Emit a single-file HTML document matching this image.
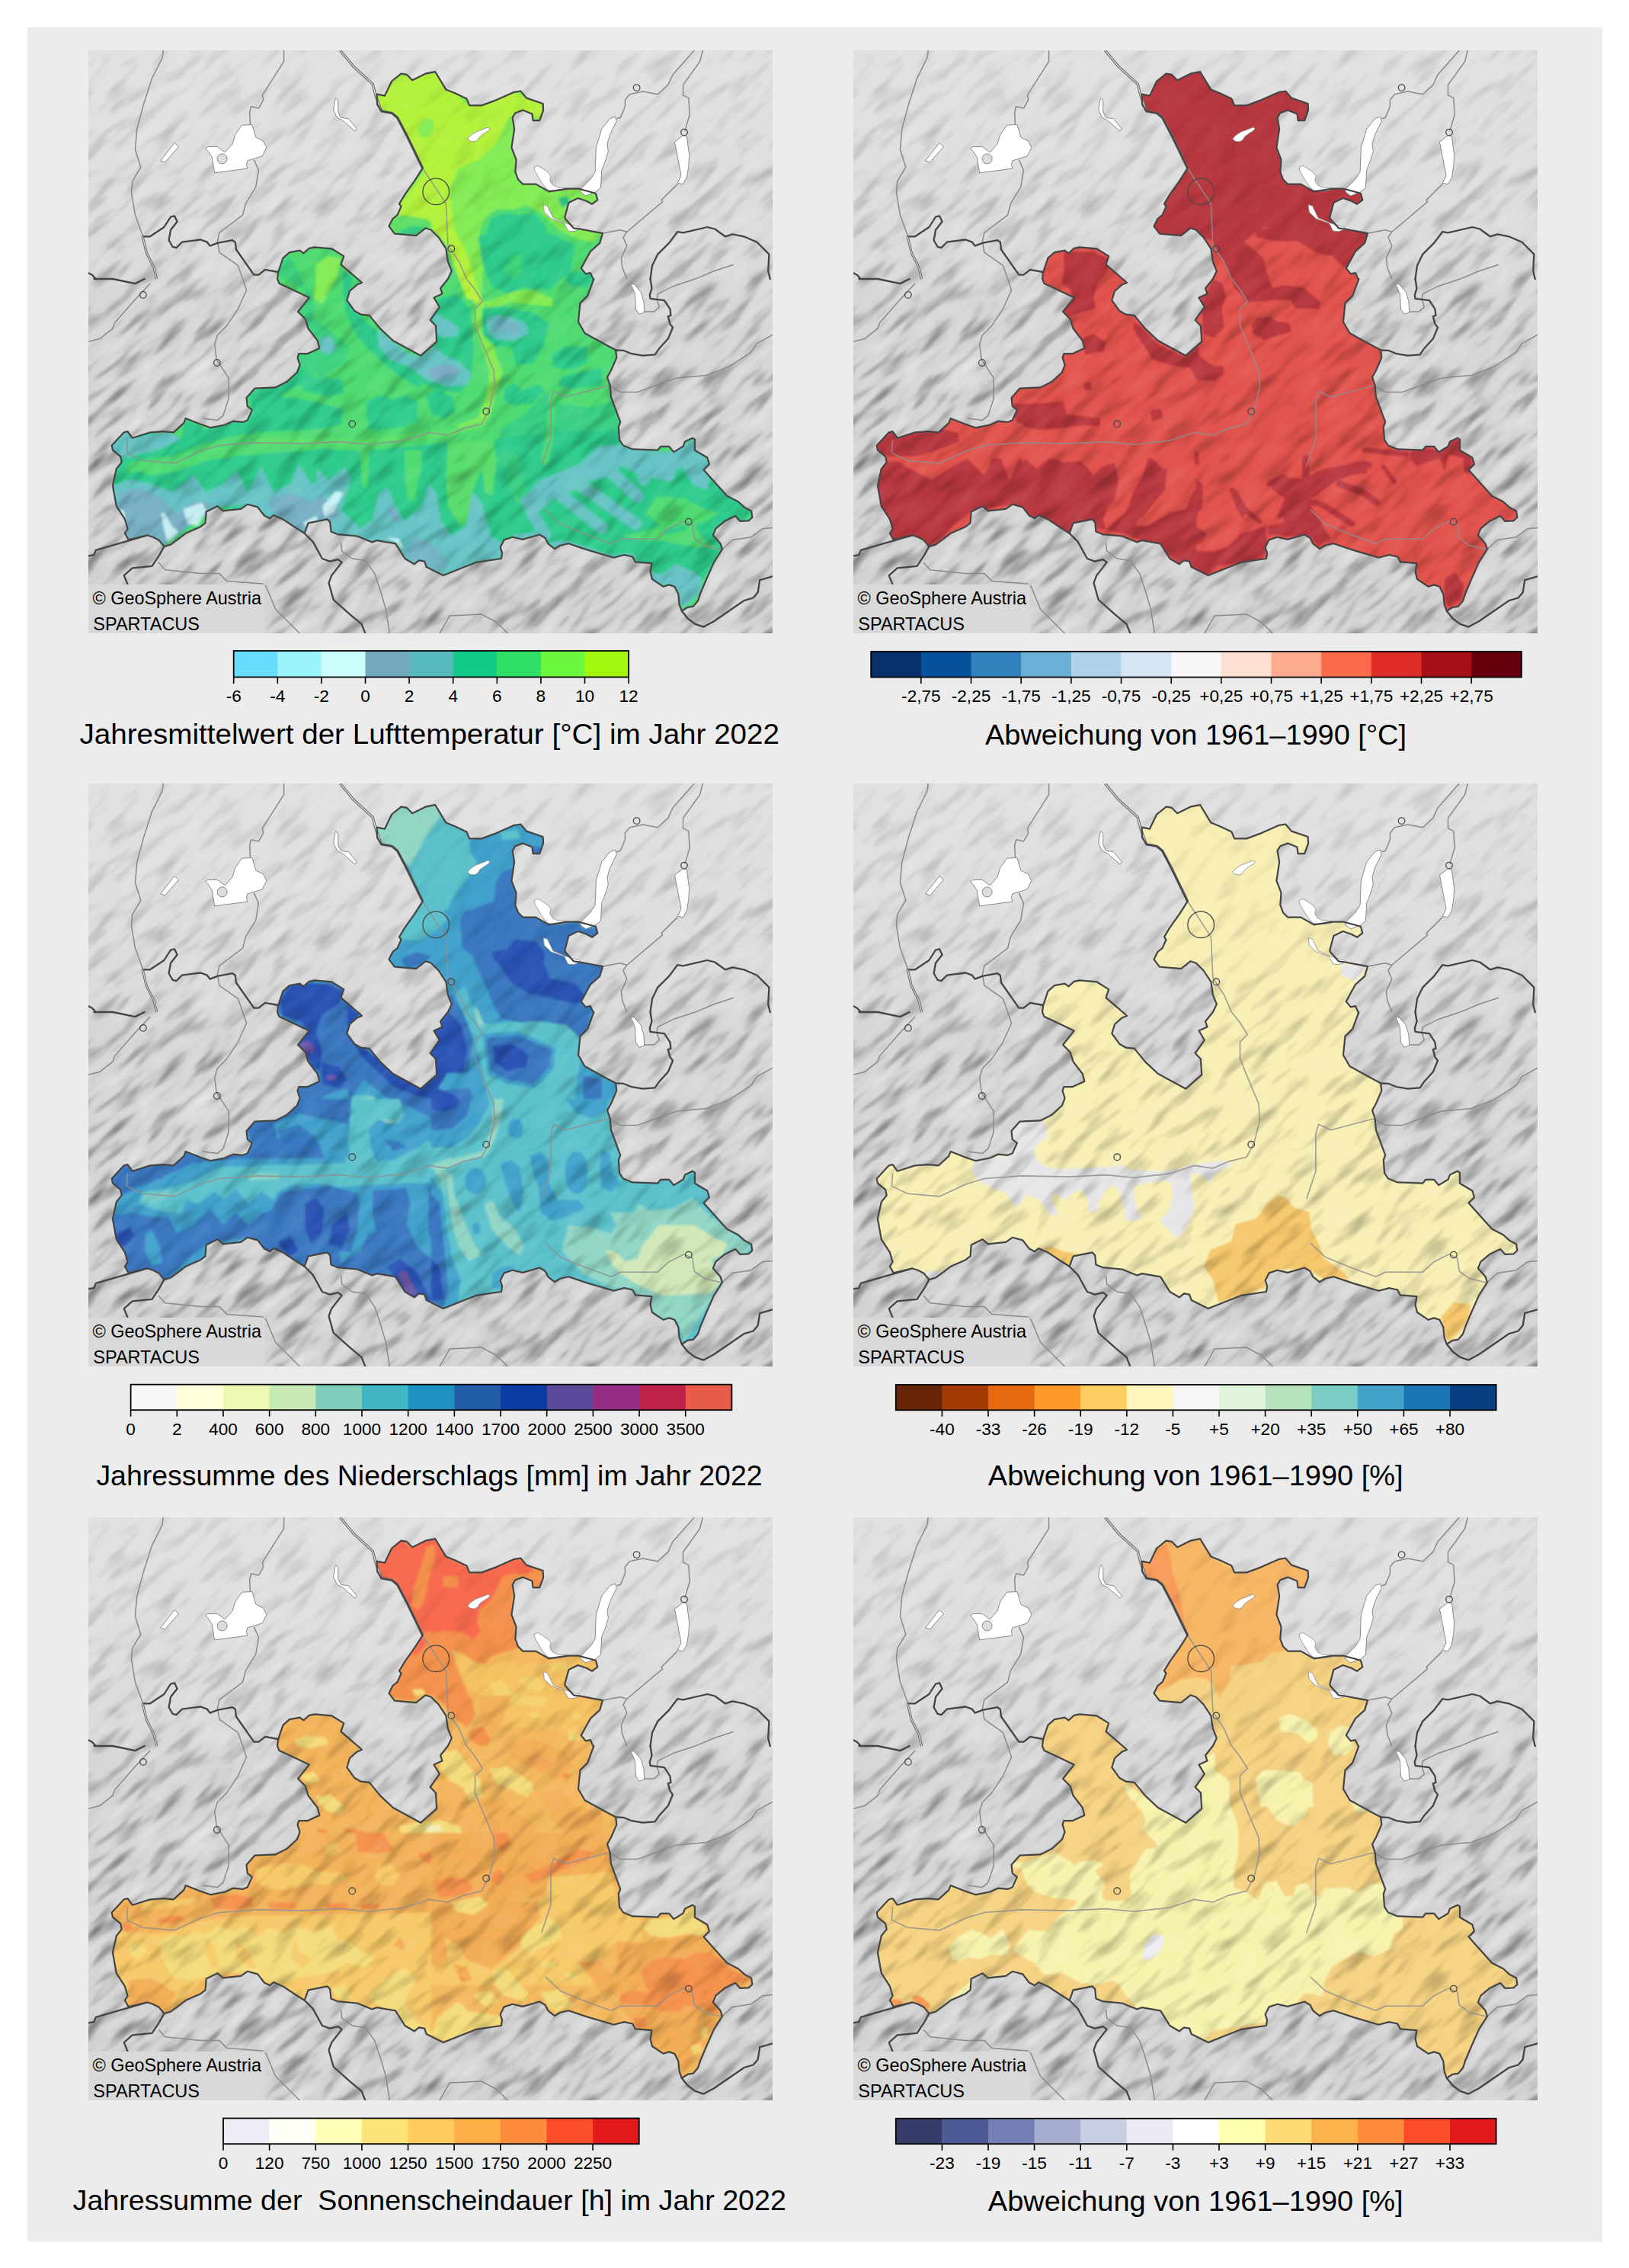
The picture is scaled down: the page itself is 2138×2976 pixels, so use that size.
<!DOCTYPE html>
<html lang="de"><head><meta charset="utf-8"><title>Klima Salzburg 2022</title>
<style>html,body{margin:0;padding:0;background:#fff}svg{display:block}text{font-family:"Liberation Sans",sans-serif;fill:#000}</style></head><body>
<svg width="2138" height="2976" viewBox="0 0 2138 2976">
<defs>
<clipPath id="frame"><rect width="898" height="765"/></clipPath>
<path id="sbgp" d="M378.6,57.7 L388.9,59.7 L398.2,40.5 L410.5,30.7 L417.9,31.9 L425.2,39.3 L442.4,30.7 L455.2,28.2 L469.4,51.6 L481.7,56.5 L496.4,63.4 L500.1,72.4 L516.1,72.4 L535.7,65.1 L557.8,55.2 L567.2,53.5 L575,62.6 L596.6,70 L597.1,78.6 L592.2,92.1 L583.6,92.1 L582.4,83.5 L570.1,78.6 L560.3,82.3 L556.6,88.4 L559.1,103.1 L555.4,127.7 L561.5,143.6 L560.3,159.6 L564,169.4 L570.1,175.6 L587.3,175.6 L604.5,185.4 L629,181.7 L643.8,181.7 L665.9,187.8 L668.3,196.4 L661,201.8 L653.6,197.7 L642.5,194 L630.3,200.1 L625.4,218.5 L625.8,221 L636.8,233.3 L645.4,234.5 L674.9,240.1 L671.2,252.9 L658.9,264 L652.8,275 L646.7,286.1 L652.8,293.4 L658.9,292.2 L662.6,300.1 L663.4,300 L655.2,322.1 L645.4,331.9 L643,356.5 L651.6,371.2 L676.1,384.7 L692.1,393.3 L693.3,403.1 L685.9,420.3 L681,428.9 L684.7,440 L685.9,454.7 L698.2,487.8 L695.8,494 L697,511.2 L701.9,518.5 L714.2,523.4 L747.3,524.7 L751,519.8 L762.1,519.8 L768.2,527.1 L780.5,519.8 L782.9,513.6 L792.8,508.7 L795.9,510.7 L795.9,524.7 L812.4,534.5 L814.9,543.1 L807.5,550.5 L838.2,584.8 L852.9,592.2 L861.5,600.1 L870.1,604.4 L871.3,613 L866.4,617.4 L855.4,617.9 L849.2,611 L835.7,617.4 L823.4,627.7 L819.8,636.3 L829.6,647.3 L832,654.7 L821,671.9 L811.2,694 L803.8,711.2 L800.1,722.2 L794,729.6 L786.6,730.8 L778.8,735.7 L775.6,727.1 L774.3,713.6 L769.4,703.8 L762.1,701.4 L754.7,703.8 L740,694 L737.5,684.2 L739.5,673.1 L717.9,671.4 L714.2,664.5 L703.1,662.1 L689.6,665.7 L656,655.9 L630.3,647.3 L619.2,649.8 L611.8,654.2 L603.3,647.3 L599.6,640 L592.2,635.5 L570.1,641.9 L556.6,638.7 L545.5,642.4 L540.6,652.2 L543.1,659.6 L541.9,667 L508.7,671.9 L465.7,689.1 L443.6,678 L441.2,670.7 L433.8,669.4 L427.7,674.3 L415.4,667 L409.3,657.2 L403.1,647.3 L378.6,643.2 L372.4,645.4 L352.8,637.5 L327,635.1 L318.4,631.4 L317.2,619.1 L313.5,615.4 L288.5,620.3 L283.6,633.8 L270.1,625.2 L255.4,615.4 L243.1,610 L238.2,614.2 L230.8,610.5 L222.2,599.4 L208.7,595.8 L200.1,601.9 L176.8,604.4 L169.4,598.2 L154.7,605.6 L153.5,620.3 L147.3,625.2 L127.7,633.8 L108,648.6 L99.4,651 L92.1,642.4 L84.7,638.7 L77.3,636.3 L52.8,642.4 L47.9,633.8 L51.6,627.7 L47.9,615.4 L36.8,598.2 L31.9,571.2 L36.8,549.1 L43.7,540.5 L42.2,533.1 L31.9,524.6 L30.7,518.4 L46.7,501.2 L51.6,500.1 L57.7,508.7 L81,501.4 L98.2,500.1 L111.7,501.4 L125.2,489.1 L127.7,482.9 L146.1,490.3 L160.8,495.2 L179.3,491.5 L190.3,486.6 L202.6,487.8 L208.7,485.4 L214.9,471.9 L208.7,467 L207.5,455.9 L218.5,443.6 L245.5,442.4 L260.3,435.1 L273.8,422.8 L277.5,413 L274.5,403.1 L276.2,398.2 L287.3,398.2 L303.3,390.9 L300.8,381 L288.5,365.1 L284.8,352.8 L275,343 L289.7,324.6 L264,312.3 L250.5,306.1 L248,300 L249.2,291 L255.4,272.6 L264,265.2 L277.5,262.7 L282.4,266.4 L289.7,259.8 L297.1,258.3 L319.2,260.3 L335.2,270.1 L331.5,281.2 L344.3,292.2 L353.5,300 L358.9,304.9 L352.8,307.4 L343,316 L339.3,328.2 L349.1,341.7 L357.7,346.7 L368.8,347.9 L383,365.1 L399.9,381 L436.3,400.7 L457.2,382.3 L455.9,361.4 L448.6,354 L460.8,336.8 L453.5,324.6 L464.5,319.6 L462.1,312.3 L471.9,300 L476.8,289.7 L471.9,277.5 L469.4,260.3 L459.6,245.5 L449.8,235.7 L442.4,233.3 L430.1,243.1 L401.9,240.6 L394.5,230.8 L399.4,221 L405.6,216.1 L410.5,205 L408,201.4 L415.4,189.1 L427.7,171.9 L438.7,154.7 L417.9,111.7 L405.6,88.4 L398.2,82.3 L384.7,79.8 L379.1,71.2Z"/>
<clipPath id="sbg"><use href="#sbgp"/></clipPath>
<linearGradient id="bgg" x1="0" y1="0" x2="0" y2="1"><stop offset="0" stop-color="#e1e1e1"/><stop offset="0.28" stop-color="#dcdcdc"/><stop offset="0.45" stop-color="#d4d4d4"/><stop offset="1" stop-color="#d1d1d1"/></linearGradient>
<filter id="terrD" x="0" y="0" width="100%" height="100%" color-interpolation-filters="sRGB"><feTurbulence type="fractalNoise" baseFrequency="0.018 0.065" numOctaves="2" seed="7" result="n"/><feColorMatrix in="n" type="matrix" values="0 0 0 0 0  0 0 0 0 0  0 0 0 0 0  -1.05 0 0 0 0.525"/></filter>
<filter id="terrL" x="0" y="0" width="100%" height="100%" color-interpolation-filters="sRGB"><feTurbulence type="fractalNoise" baseFrequency="0.018 0.065" numOctaves="2" seed="7" result="n"/><feColorMatrix in="n" type="matrix" values="0 0 0 0 1  0 0 0 0 1  0 0 0 0 1  1.05 0 0 0 -0.525"/></filter>
<filter id="soft1" x="0" y="0" width="898" height="765" filterUnits="userSpaceOnUse"><feGaussianBlur stdDeviation="1.8"/></filter>
<filter id="soft2" x="0" y="0" width="898" height="765" filterUnits="userSpaceOnUse"><feGaussianBlur stdDeviation="1"/></filter>
<linearGradient id="tmg" x1="0" y1="0" x2="0" y2="1"><stop offset="0" stop-color="#fff" stop-opacity="0.25"/><stop offset="0.3" stop-color="#fff" stop-opacity="0.55"/><stop offset="0.5" stop-color="#fff" stop-opacity="1"/><stop offset="1" stop-color="#fff" stop-opacity="1"/></linearGradient>
<mask id="tm" maskUnits="userSpaceOnUse" x="0" y="0" width="898" height="765"><rect width="898" height="765" fill="url(#tmg)"/></mask>
<g id="terrain" mask="url(#tm)"><g transform="rotate(-42 449 382)"><rect x="-300" y="-300" width="1500" height="1400" filter="url(#terrD)"/><rect x="-300" y="-300" width="1500" height="1400" filter="url(#terrL)"/></g></g>
<g id="terrainIn" mask="url(#tm)"><g transform="rotate(-42 449 382)"><rect x="-300" y="-300" width="1500" height="1400" filter="url(#terrD)" opacity="0.6"/><rect x="-300" y="-300" width="1500" height="1400" filter="url(#terrL)" opacity="0.22"/></g></g>
<g id="mapbg">
<rect width="898" height="765" fill="url(#bgg)"/>
<use href="#terrain"/>
<g fill="none" stroke="#8a8a8a" stroke-width="1.5" stroke-linejoin="round">
<path d="M98.2,0 L97,9.8 L83.5,36.8 L72.4,71.2 L63.8,103.1 L61.4,130.1 L68.8,153.5 L57.7,171.9 L56.5,186.6 L61.4,216.1 L71.2,243.1 L76.1,265.2 L85.9,284.8 L89.6,300.1"/>
<path d="M256.6,0 L256.6,14.7 L228.4,58.9 L229.6,65.1 L223.4,76.1 L213.6,73.7 L211.7,81 L212.4,97"/>
<path d="M217.3,143.6 L223.4,157.2 L219.8,179.3 L206.3,201.4 L202.6,216.1 L171.9,239.4 L169.4,250.5 L171.9,265.2 L196.4,282.4 L202.6,300.1"/>
<path d="M330.3,0 L348.7,22.1 L373.2,44.2 L376.9,58.9 L383.1,76.1 L400,83.5"/>
<path d="M795.2,0 L767,31.9 L760.8,45.4 L747.3,57.7 L727.7,54 L710.5,57.7 L704.4,65.1 L704.4,73.7 L698.2,88.4 L693.3,89.6"/>
<path d="M806.3,0 L802.6,14.7 L780.5,45.4 L780.5,58.9 L787.8,62.6 L789.1,84.7 L782.9,105.6"/>
<path d="M773.1,175.6 L752.2,196.4 L753.5,198.9 L706.8,238.2 L701.9,245.5 L706.8,256.6 L699.4,272.6 L700.7,284.8 L706.8,300.1"/>
<path d="M674.9,240.1 L698.2,235.7 L706.8,238.2"/>
<path d="M846.8,281.2 L821,289.7 L796.4,300.1"/>
<path d="M0,382.3 L14.7,378.6 L31.9,365.1 L34.4,357.7 L61.4,327 L81,306.1"/>
<path d="M202.6,300 L207.5,314.7 L196.4,339.3 L181.7,361.4 L169.4,373.7 L165.7,385.9 L168.2,405.6 L184.2,430.1 L184.2,457.2 L176.8,479.3 L169.4,485.4 L149.8,482.9"/>
<path d="M729.7,343 L742.4,343 L749.3,336.8 L746.1,327 L747.3,319.6 L767,309.8 L796.4,300"/>
<path d="M684.7,440.5 L698.2,448.6 L720.3,448.6 L771.9,430.1 L811.2,426.5 L840.6,415.4 L870.1,395.8 L877.5,384.7 L898.3,373.2"/>
<path d="M92.1,671.9 L100.7,681.7 L147.3,686.6 L171.9,686.6 L181.7,696.4 L228.4,700.1 L233.3,703.8 L245.5,733.3 L277.5,765.2"/>
<path d="M331.5,646.1 L332.7,657.2 L346.2,667 L363.4,669.4 L375.7,686.6 L383.1,708.7 L390.4,733.3 L395.3,765.2"/>
<path d="M460.8,765.2 L474.3,741.9 L516.1,740.1 L535.7,750.5 L550.5,765.2"/>
<path d="M832,654.7 L845.5,642.4 L870.1,638.7 L884.8,627.7 L898.3,626.5"/>
</g>
<g fill="none" stroke="#444" stroke-width="2.3" stroke-linejoin="round" stroke-linecap="round">
<path d="M71.2,244.3 L81,244.3 L99.4,232 L108,218.5 L113,217.3 L116.6,224.7 L108,235.7 L105.6,249.2 L110.5,257.8 L115.4,259.1 L122.8,251.7 L147.3,248.5 L155.9,251.7 L159.6,256.6 L169.4,252.9 L189.1,249.2 L192.8,251.7 L194,261.5 L217.3,294.7 L223.4,294.7 L232,287.8 L249.2,291"/>
<path d="M737.5,300.1 L740,282.4 L747.3,267.6 L762.1,252.9 L773.1,238.2 L780.5,239.4 L812.4,232 L822.2,234.5 L835.7,244.3 L845.5,241.4 L860.3,244.3 L877.5,251.7 L893.4,267.6 L892.2,289.7 L894.7,300.1"/>
<path d="M692.1,393.3 L701.9,393.8 L713,398.2 L727.7,400.7 L743.6,399.4 L748.6,392.1 L760.8,378.6 L767,363.8 L763.3,358.9 L760.8,349.1 L764.5,347.9 L763.3,339.3 L755.9,328.2 L737.5,325.8 L736.8,320.9 L739.5,312.3 L737.5,300"/>
<path d="M0,663.3 L7.4,662.1 L9.8,655.9 L77.3,636.3"/>
<path d="M99.4,651 L93.3,662.1 L83.5,676.8 L57.7,679.3 L46.7,689.1 L51.6,700.9"/>
<path d="M283.6,633.8 L294.7,644.9 L306.9,667 L316.8,670.7 L327.8,668.2 L332.7,671.9 L319.2,689.1 L315.5,698.9 L321.7,721 L343.8,740.6 L358.5,752.9 L363.4,765.2"/>
<path d="M778.8,735.7 L786.6,745.5 L796.4,752.9 L807.5,756.6 L821,749.2 L860.3,722.2 L872.6,718.5 L878.7,711.2 L881.2,695.2 L898.3,690.3"/>
<path d="M7.4,300 L31.9,300 L61.4,306.1 L73.7,300"/>
<path d="M0,292.2 L4.9,294.7 L9.8,300.1"/>
</g>
</g>
<g id="lakesg">
<path d="M153.5,128.9 L157.2,126.5 L169.4,126.5 L179.3,133.8 L189.1,122.8 L192.8,110.5 L201.4,98.2 L214.9,97.5 L219.8,114.2 L229.6,119.1 L233.8,127.7 L228.4,138.7 L221,141.2 L208.7,144.9 L207.5,149.8 L208.7,155.2 L165.7,160.8 L162.1,140 L157.2,132.6Z" fill="#fff" stroke="#8a8a8a" stroke-width="1"/>
<path d="M94.5,144.9 L113,121.5 L118.4,126.5 L100.7,146.8Z" fill="#fff" stroke="#8a8a8a" stroke-width="1"/>
<path d="M325.4,62.6 L327.8,66.3 L327.8,81 L331.5,88.4 L341.3,89.6 L352.4,103.1 L349.9,106.1 L333.9,92.1 L326.6,88.4 L321.7,78.6 L323.6,65.1Z" fill="#fff" stroke="#8a8a8a" stroke-width="1"/>
<path d="M646.7,186.6 L645.4,182.9 L658.9,169.4 L665.1,159.6 L666.3,127.7 L673.7,103.1 L684.7,89.6 L691.3,87.2 L693.3,92.8 L684.7,110.5 L681,122.8 L682.3,132.6 L678.6,144.9 L673.7,157.2 L672.4,180.5 L666.3,185.4 L652.8,191Z" fill="#fff" stroke="#8a8a8a" stroke-width="1"/>
<path d="M769.4,120.3 L780.5,111.7 L785.4,113 L788.6,137.5 L787.8,152.2 L785.4,167 L780.5,175.6 L773.1,174.3 L778,164.5 L771.9,132.6Z" fill="#fff" stroke="#8a8a8a" stroke-width="1"/>
<path d="M711.7,306.1 L716.6,307.4 L725.2,317.2 L728.9,329.5 L729.7,344.2 L722.8,346.2 L718.4,339.3 L717.4,319.6Z" fill="#fff" stroke="#8a8a8a" stroke-width="1"/>
<circle cx="175.6" cy="142.4" r="6.5" fill="#dcdcdc" stroke="#8a8a8a" stroke-width="1"/>
<path d="M497.7,116.3 L501.4,112 L508.8,107.1 L518.6,103.4 L524.7,100.9 L527.2,102.8 L524.7,105.8 L518.6,109.5 L513.7,113.2 L510.6,118.1 L506.3,120 L501.4,119.3Z" fill="#fff" stroke="#8a8a8a" stroke-width="0.8"/>
<path d="M584.9,153.7 L589.8,151.3 L595.9,154.9 L603.3,159.9 L607,164.8 L605.7,170.9 L609.4,177 L616.8,180.1 L627.8,180.7 L629.7,182.6 L621.7,184.4 L611.9,185 L603.3,183.2 L597.2,177 L591,167.2 L586.1,158.6Z" fill="#fff" stroke="#8a8a8a" stroke-width="0.8"/>
<path d="M597.1,202.6 L602.5,204.3 L609.9,219.8 L627.1,227.1 L644.3,232 L645.5,234.5 L636.9,237.7 L629.5,237 L624.6,227.1 L607.4,221 L598.3,212.4Z" fill="#fff" stroke="#8a8a8a" stroke-width="0.8"/>
<path d="M330.3,0 L348.7,22.1 L373.2,44.2 L376.9,58.9 L383.1,76.1 L384.7,79.8 L398.2,82.3 L405.6,88.4 L417.9,111.7 L438.7,154.7" fill="none" stroke="#6e6e6e" stroke-width="3.4" stroke-linejoin="round"/>
<path d="M330.3,0 L348.7,22.1 L373.2,44.2 L376.9,58.9 L383.1,76.1 L384.7,79.8 L398.2,82.3 L405.6,88.4 L417.9,111.7 L438.7,154.7" fill="none" stroke="#e6e6e6" stroke-width="1.1" stroke-linejoin="round"/>
<path d="M71.2,244.3 L76.1,265.2 L85.9,284.8 L89.6,300.1" fill="none" stroke="#6e6e6e" stroke-width="3.2" stroke-linejoin="round"/>
<path d="M71.2,244.3 L76.1,265.2 L85.9,284.8 L89.6,300.1" fill="none" stroke="#e6e6e6" stroke-width="1" stroke-linejoin="round"/>
</g>
<g id="mapfg">
<g fill="none" stroke="#8f8f8f" stroke-width="1.6" stroke-linejoin="round" opacity="0.85" clip-path="url(#sbg)">
<path d="M51.6,511.2 L50.3,528.4 L71.2,538.2 L113,541.9 L147.3,525.9 L171.9,518.5 L221,514.9 L282.4,516.1 L331.5,513.6 L368.3,517.3 L400,513.6"/>
<path d="M399.9,514.1 L417.9,511.2 L447.3,501.4 L471.9,505 L491.5,496.4 L516.1,490.3 L525.9,471.9 L533.3,442.4 L532,420.3 L518.5,388.4 L507.5,361.4 L507.5,339.3 L517.3,329.5 L506.3,312.3 L496.4,300"/>
<path d="M496.4,300.1 L486.6,277.5 L471.9,255.4 L469.4,201.4 L438.7,154.7"/>
<path d="M700,442.4 L683.1,440 L626.6,454.7 L610.6,447.3 L606.9,459.6 L606.9,508.7 L594.7,545.5"/>
<path d="M832,655.2 L808.7,649.8 L795.2,640 L792.8,622.8 L781.7,617.9 L762.1,627.7 L747.3,641.2 L698.2,641.2 L685.9,647.3 L649.1,633.8 L619.6,621.5 L600,603.1"/>
</g>
<use href="#sbgp" fill="none" stroke="#444" stroke-width="2.2" stroke-linejoin="round"/>
<g fill="none" stroke="#4a4a4a" stroke-width="1.3">
<circle cx="719.6" cy="49.1" r="4.3"/>
<circle cx="782.0" cy="107.6" r="4.3"/>
<circle cx="71.9" cy="320.9" r="4.3"/>
<circle cx="168.9" cy="410.0" r="4.3"/>
<circle cx="346.2" cy="490.3" r="4.3"/>
<circle cx="522.2" cy="473.8" r="4.3"/>
<circle cx="787.8" cy="618.6" r="4.3"/>
<circle cx="476.3" cy="260.3" r="4.3"/>
<circle cx="456.2" cy="185.4" r="17.3"/>
</g>
</g>
</defs>
<rect x="36" y="36" width="2067" height="2905.5" fill="#ececec"/>
<g transform="translate(116,66)" clip-path="url(#frame)">
<use href="#mapbg"/>
<g clip-path="url(#sbg)">
<rect width="898" height="765" fill="#2fd27c"/>
<g filter="url(#soft1)">
<path d="M0,0 L898,0 L898,765 L0,765Z" fill="#4fdb72"/>
<path d="M358.3,0 L716.6,0 L716.6,242.6 L669.8,242.6 L661.5,259.1 L633.9,259.1 L606.4,242.6 L584.3,220.5 L556.8,209.5 L529.2,215 L512.7,242.6 L518.2,286.7 L515.4,330.8 L496.1,325.2 L479.6,281.1 L465.8,242.6 L358.3,248.1Z" fill="#84ec54"/>
<path d="M380.4,55.1 L410.7,33.1 L457.5,30.3 L496.1,71.7 L556.8,55.1 L595.4,68.9 L595.4,91 L573.3,79.9 L551.3,88.2 L537.5,118.5 L512.7,143.3 L485.1,154.4 L474.1,181.9 L479.6,231.5 L498.9,286.7 L515.4,330.8 L496.1,325.2 L479.6,281.1 L465.8,242.6 L441,228.8 L410.7,237 L396.9,237 L410.7,201.2 L441,159.9 L407.9,99.2 L380.4,71.7Z" fill="#b4f23c"/>
<ellipse cx="443.8" cy="102.0" rx="10" ry="13" fill="#84ec54" transform="rotate(20 443.8 102.0)"/>
<path d="M399.4,221 L410.5,216.1 L427.7,218.5 L447.3,222.2 L452.2,233.3 L442.4,233.3 L430.1,243.1 L401.9,240.6 L394.5,230.8Z" fill="#4fdb72" opacity="0.8"/>
<path d="M410.5,235.7 L427.7,229.6 L442.4,233.3 L430.1,243.1 L408,241.9Z" fill="#2ecb8c" opacity="0.8"/>
<path d="M522.2,218.5 L535.7,208.7 L557.8,208.7 L575,203.8 L594.7,213.6 L616.8,235.7 L643.8,248 L668.3,252.9 L653.6,272.6 L647.5,287.3 L619.2,300.1 L545.5,300.1 L530.8,282.4 L516.1,257.8 L513.6,235.7Z" fill="#4fdb72"/>
<path d="M528.4,221 L545.5,213.6 L565.2,216.1 L584.8,213.6 L602,233.3 L599.6,248 L584.8,260.3 L570.1,255.4 L560.3,267.6 L545.5,270.1 L535.7,255.4 L521,245.5Z" fill="#2ecb8c"/>
<path d="M555.4,270.1 L570.1,267.6 L594.7,275 L614.3,289.7 L609.4,300.1 L557.8,300.1Z" fill="#2ecb8c"/>
<ellipse cx="561.5" cy="279.9" rx="9" ry="12" fill="#25c296" transform="rotate(30 561.5 279.9)"/>
<ellipse cx="592.2" cy="275.0" rx="10" ry="8" fill="#25c296"/>
<path d="M616.8,194 L629,191.5 L631.5,201.4 L621.7,206.3Z" fill="#2ecb8c"/>
<path d="M511.3,245 L527.9,239.5 L569.3,234 L610.7,242.3 L638.4,256.1 L632.8,289.2 L605.2,314.1 L569.3,311.3 L550,319.6 L527.9,308.6 L516.8,275.4Z" fill="#2ecb8c"/>
<path d="M555.5,269.9 L566.5,267.1 L572.1,289.2 L558.3,300.3 L544.4,289.2Z" fill="#4fdb72" opacity="0.6"/>
<path d="M516.8,330.7 L536.2,325.2 L555.5,316.9 L580.4,314.1 L608,325.2 L610.7,336.2 L583.1,333.4 L555.5,330.7 L527.9,339Z" fill="#84ec54"/>
<path d="M453.3,234 L472.6,234 L489.2,250.6 L500.2,275.4 L511.3,316.9 L518.2,329.3 L508.5,333.4 L497.5,316.9 L486.4,289.2 L472.6,258.9Z" fill="#b4f23c"/>
<path d="M508.5,333.4 L518.2,329.3 L526.5,366.6 L534.8,399.7 L544.4,421.8 L536.2,443.9 L527.9,477.1 L516.8,493.7 L486.4,497 L483.7,492.3 L511.3,482.6 L522.3,455 L526.5,421.8 L516.8,388.7 L505.8,355.5Z" fill="#84ec54"/>
<path d="M298.6,281 L315.2,269.9 L331.7,272.7 L326.2,297.5 L315.2,316.9 L306.9,333.4 L295.8,325.2 L298.6,303.1Z" fill="#84ec54"/>
<path d="M251.6,297.5 L279.2,311.3 L287.5,325.2 L273.7,344.5 L287.5,366.6 L304.1,383.2 L293.1,397 L276.5,399.7 L276.5,427.4 L306.9,427.4 L334.5,410.8 L342.8,388.7 L315.2,366.6 L295.8,350 L295.8,327.9 L282,303.1 L262.7,267.1 L251.6,283.7Z" fill="#2ecb8c" opacity="0.55"/>
<path d="M304.1,377.6 L317.9,374.9 L326.2,391.5 L315.2,399.7 L304.1,394.2Z" fill="#66c3c4"/>
<path d="M334.5,289.2 L348.3,297.5 L342.8,316.9 L345.5,339 L373.2,363.8 L400.8,388.7 L422.9,410.8 L439.5,427.4 L433.9,443.9 L417.4,432.9 L400.8,421.8 L378.7,402.5 L353.8,377.6 L340,350 L334.5,322.4Z" fill="#2ecb8c"/>
<path d="M458.8,325.2 L483.7,319.6 L500.2,339 L505.8,388.7 L503,427.4 L489.2,449.5 L467.1,446.7 L439.5,438.4 L422.9,416.3 L453.3,388.7 L450.5,355.5Z" fill="#2ecb8c"/>
<path d="M378.7,366.6 L395.3,377.6 L417.4,397 L436.7,402.5 L453.3,388.7 L467.1,399.7 L489.2,410.8 L503,424.6 L497.5,438.4 L472.6,441.2 L445,432.9 L422.9,416.3 L395.3,405.3 L381.5,388.7Z" fill="#66c3c4"/>
<path d="M453.3,344.5 L464.3,350 L486.4,363.8 L483.7,374.9 L467.1,377.6 L456,372.1Z" fill="#66c3c4"/>
<ellipse cx="465.7" cy="421.8" rx="20" ry="9" fill="#7cabc6" transform="rotate(-8 465.7 421.8)"/>
<path d="M516.8,339 L541.7,336.2 L583.1,344.5 L605.2,358.3 L596.9,388.7 L583.1,410.8 L561,413.6 L555.5,388.7 L533.4,388.7 L516.8,372.1Z" fill="#2ecb8c"/>
<path d="M522.3,352.8 L533.4,347.3 L555.5,350 L574.8,358.3 L577.6,372.1 L561,380.4 L538.9,380.4 L525.1,372.1Z" fill="#66c3c4"/>
<ellipse cx="550.0" cy="363.8" rx="18" ry="9" fill="#7cabc6" opacity="0.6" transform="rotate(10 550.0 363.8)"/>
<path d="M608,399.7 L624.6,388.7 L654.9,388.7 L654.9,410.8 L632.8,419.1 L610.7,416.3Z" fill="#2ecb8c"/>
<path d="M621.8,427.4 L674,416.3 L674,438.4 L638.4,443.9 L616.3,441.2Z" fill="#2ecb8c"/>
<path d="M547.2,443.9 L558.3,435.7 L569.3,446.7 L591.4,438.4 L599.7,446.7 L583.1,463.3 L555.5,466 L544.4,457.8Z" fill="#2ecb8c"/>
<path d="M624.6,292 L654.9,289.2 L663.2,300.3 L654.9,311.3 L630.1,308.6Z" fill="#2ecb8c"/>
<path d="M224,452.2 L251.6,455 L279.2,457.8 L306.9,463.3 L334.5,471.6 L331.7,490.9 L306.9,496.4 L265.4,499.2 L224,499.2Z" fill="#2ecb8c"/>
<path d="M364.9,463.3 L378.7,452.2 L400.8,457.8 L417.4,452.2 L433.9,463.3 L428.4,482.6 L411.8,490.9 L389.7,493.7 L367.6,496.4Z" fill="#2ecb8c"/>
<path d="M442.2,452.2 L458.8,443.9 L478.1,455 L480.9,474.3 L467.1,482.6 L450.5,477.1Z" fill="#2ecb8c"/>
<path d="M284.8,432.9 L306.9,427.4 L334.5,432.9 L334.5,449.5 L306.9,452.2 L279.2,446.7Z" fill="#2ecb8c" opacity="0.8"/>
<path d="M121.5,510.7 L127.1,483.1 L154.7,496.9 L193.4,485.8 L215.5,474.8 L209.9,452.7 L229.3,441.6 L276.2,414 L303.9,436.1 L331.5,430.6 L334.3,449.9 L314.9,455.4 L276.2,438.9 L248.6,455.4 L276.2,463.7 L328.7,472 L331.5,491.3 L303.9,496.9 L248.6,499.6 L193.4,505.2 L143.6,519 L110.5,532.8 L82.9,535.5 L55.2,541.1 L47,557.6 L30.4,552.1 L30.4,519 L47,496.9 L91.2,502.4Z" fill="#2ecb8c"/>
<path d="M367.4,461 L386.7,455.4 L428.2,461 L433.7,485.8 L414.4,494.1 L372.9,499.6 L364.6,480.3Z" fill="#2ecb8c"/>
<path d="M30.4,519 L47,499.6 L63.5,507.9 L91.2,502.4 L110.5,502.4 L121.5,510.7 L91.2,524.5 L66.3,530 L49.7,535.5 L35.9,530Z" fill="#66c3c4"/>
<path d="M30.4,557.6 L66.3,552.1 L82.9,557.6 L116,552.1 L154.7,538.3 L193.4,532.8 L248.6,527.3 L303.9,524.5 L359.1,524.5 L414.4,524.5 L450,524.5 L450,690.2 L386.7,648.8 L317.7,626.7 L234.8,612.9 L171.3,599.1 L99.4,648.8 L52.5,643.3 L30.4,593.6Z" fill="#2ecb8c"/>
<path d="M30.4,571.5 L55.2,563.2 L82.9,568.7 L110.5,579.7 L138.1,557.6 L154.7,579.7 L176.8,568.7 L193.4,552.1 L209.9,579.7 L226.5,546.6 L243.1,579.7 L265.2,568.7 L276.2,543.8 L292.8,568.7 L317.7,563.2 L337,546.6 L345.3,568.7 L337,590.8 L331.5,618.4 L359.1,629.5 L386.7,607.4 L400.6,585.3 L414.4,607.4 L430.9,629.5 L450,612.9 L450,679.2 L414.4,662.6 L359.1,635 L317.7,626.7 L284.5,632.2 L234.8,612.9 L207.2,596.3 L171.3,599.1 L149.2,612.9 L99.4,648.8 L52.5,643.3 L30.4,593.6Z" fill="#66c3c4"/>
<path d="M41.4,579.7 L69.1,574.2 L91.2,585.3 L116,607.4 L138.1,590.8 L165.7,596.3 L149.2,612.9 L121.5,629.5 L99.4,648.8 L52.5,643.3 L38.7,607.4Z" fill="#7cabc6" opacity="0.8"/>
<path d="M234.8,590.8 L262.4,579.7 L290.1,590.8 L317.7,585.3 L331.5,607.4 L317.7,626.7 L284.5,632.2 L248.6,615.7Z" fill="#7cabc6" opacity="0.8"/>
<path d="M95.3,607.4 L100.8,607.4 L109.1,623.9 L118.8,632.2 L110.5,641.9 L103.6,646 L98.1,623.9Z" fill="#d6fcfc" opacity="0.8"/>
<path d="M124.3,601.8 L149.2,593.6 L154.7,604.6 L143.6,623.9 L129.8,621.2Z" fill="#d6fcfc" opacity="0.8"/>
<path d="M40.1,601.8 L47,604.6 L49.7,626.7 L44.2,621.2Z" fill="#d6fcfc" opacity="0.8"/>
<path d="M281.8,619.8 L303.9,608.8 L324.6,583.9 L331.5,583.9 L321.8,601.8 L303.9,617 L287.3,626.7Z" fill="#d6fcfc" opacity="0.8"/>
<path d="M389.5,639.1 L408.8,640.5 L414.4,657.1 L397.8,648.8Z" fill="#d6fcfc" opacity="0.8"/>
<path d="M66.3,552.1 L71.8,541.1 L110.5,535.5 L143.6,521.7 L193.4,507.9 L248.6,502.4 L303.9,501 L359.1,499.6 L400.6,496.9 L450,494.1 L450,520.4 L414.4,524.5 L359.1,524.5 L303.9,524.5 L248.6,527.3 L209.9,530 L193.4,532.8 L154.7,538.3 L116,552.1 L82.9,557.6Z" fill="#4fdb72"/>
<path d="M224,513 L279.2,513 L362.1,514.4 L417.4,507.5 L472.6,503.3 L514.1,490.9" fill="none" stroke="#5fe268" stroke-width="9" stroke-linecap="round" stroke-linejoin="round" opacity="0.8"/>
<path d="M356.4,524.5 L361.9,568.7" fill="none" stroke="#4fdb72" stroke-width="9" stroke-linecap="round" stroke-linejoin="round"/>
<path d="M430.9,524.5 L426.8,590.8" fill="none" stroke="#4fdb72" stroke-width="10" stroke-linecap="round" stroke-linejoin="round"/>
<path d="M300,522.1 L349.1,527 L471.9,514.7 L545.5,509.8 L606.9,500 L700,500 L700,671.9 L300,647.3Z" fill="#2ecb8c"/>
<path d="M356.5,524.6 L368.8,524.6 L366.3,573.7 L358.9,571.2Z" fill="#4fdb72"/>
<path d="M415.4,524.6 L437.5,524.6 L437.5,549.1 L427.7,588.4 L420.3,593.3 L415.4,561.4Z" fill="#4fdb72"/>
<path d="M535.7,536.8 L545.5,524.6 L565.2,531.9 L575,581 L567.6,603.1 L555.4,581 L548,549.1Z" fill="#4fdb72"/>
<path d="M594.7,500 L606.9,500 L604.5,539.3 L594.7,544.2Z" fill="#4fdb72"/>
<path d="M471.9,514.7 L530.8,509.8 L535.7,536.8 L530.8,583.5 L521,581 L516.1,549.1 L503.8,581 L501.4,617.9 L486.6,622.8 L471.9,598.2 L469.4,561.4Z" fill="#5add6d"/>
<path d="M300,549.1 L314.7,563.8 L336.8,546.7 L344.2,563.8 L331.9,603.1 L356.5,627.7 L373.7,615.4 L381,581 L393.3,573.7 L405.6,603.1 L415.4,617.9 L437.5,598.2 L447.3,568.8 L457.2,581 L462.1,615.4 L476.8,637.5 L496.4,622.8 L503.8,578.6 L516.1,593.3 L528.4,637.5 L545.5,647.3 L567.6,632.6 L587.3,617.9 L570.1,593.3 L606.9,581 L668.3,519.6 L700,519.6 L700,531.9 L683.1,549.1 L700,549.1 L700,578.6 L668.3,573.7 L643.8,581 L619.2,598.2 L604.5,615.4 L602,637.5 L592.2,635.5 L570.1,641.9 L556.6,638.7 L545.5,642.4 L540.6,652.2 L543.1,659.6 L541.9,667 L508.7,671.9 L465.7,689.1 L443.6,678 L441.2,670.7 L433.8,669.4 L427.7,674.3 L415.4,667 L409.3,657.2 L403.1,647.3 L378.6,643.2 L372.4,645.4 L352.8,637.5 L327,635.1 L318.4,631.4 L317.2,619.1 L300,620.3Z" fill="#66c3c4"/>
<path d="M300,581 L324.6,598.2 L329.5,610.5 L317.2,617.9 L300,617.9Z" fill="#7cabc6" opacity="0.8"/>
<path d="M393.3,603.1 L403.1,598.2 L408,615.4 L398.2,617.9Z" fill="#7cabc6" opacity="0.8"/>
<path d="M427.7,637.5 L452.2,647.3 L471.9,671.9 L462.1,684.2 L444.9,676.8 L437.5,669.4 L427.7,671.9 L415.4,662.1Z" fill="#7cabc6" opacity="0.6"/>
<path d="M307.4,598.2 L324.6,578.6 L334.4,581 L322.1,605.6 L309.8,613Z" fill="#d6fcfc" opacity="0.85"/>
<path d="M390.9,638.7 L408,641.2 L414.2,655.9 L403.1,644.9Z" fill="#d6fcfc" opacity="0.85"/>
<path d="M604.7,447.1 L684.8,438.9 L695.9,483.1 L698.6,519 L671,519 L643.4,543.8 L593.6,563.2 L566,590.8 L541.2,568.7 L538.4,524.5 L541.2,496.9 L571.5,477.5Z" fill="#2ecb8c" opacity="0.7"/>
<path d="M608.8,449.9 L606.1,505.2 L599.2,538.3" fill="none" stroke="#4fdb72" stroke-width="9" stroke-linecap="round" stroke-linejoin="round"/>
<path d="M607.5,447.1 L684.8,438.9 L684.8,462.3 L657.2,469.2 L615.7,463.7Z" fill="#4fdb72"/>
<path d="M566,590.8 L593.6,563.2 L643.4,543.8 L671,519 L726.2,524.5 L767.7,527.3 L795.3,509.3 L814.6,546.6 L869.9,607.4 L831.2,654.3 L806.4,695.8 L781.5,731.7 L773.2,706.8 L740.1,698.5 L715.2,662.6 L687.6,662.6 L626.8,643.3 L604.7,635 L571.5,637.8 L543.9,654.3 L541.2,635Z" fill="#2ecb8c"/>
<path d="M566,590.8 L593.6,563.2 L643.4,543.8 L671,519 L698.6,517.6 L726.2,524.5 L767.7,527.3 L795.3,509.3 L800.8,524.5 L817.4,546.6 L813.3,577 L795.3,571.5 L778.7,546.6 L756.6,564.6 L729,559 L712.4,552.1 L698.6,545.2 L684.8,559 L659.9,564.6 L643.4,575.6 L615.7,583.9 L593.6,604.6 L579.8,615.7Z" fill="#66c3c4"/>
<path d="M615.7,579.7 L673.8,626.7" fill="none" stroke="#66c3c4" stroke-width="16" stroke-linecap="round" stroke-linejoin="round"/>
<path d="M643.4,568.7 L718,621.2" fill="none" stroke="#66c3c4" stroke-width="16" stroke-linecap="round" stroke-linejoin="round"/>
<path d="M684.8,552.1 L720.7,585.3" fill="none" stroke="#66c3c4" stroke-width="16" stroke-linecap="round" stroke-linejoin="round"/>
<path d="M582.6,607.4 L599.2,635" fill="none" stroke="#66c3c4" stroke-width="16" stroke-linecap="round" stroke-linejoin="round"/>
<path d="M726.2,535.5 L729,563.2" fill="none" stroke="#66c3c4" stroke-width="16" stroke-linecap="round" stroke-linejoin="round"/>
<path d="M759.4,538.3 L762.2,557.6" fill="none" stroke="#66c3c4" stroke-width="16" stroke-linecap="round" stroke-linejoin="round"/>
<path d="M541.2,651.6 L560.5,635 L593.6,632.2 L604.7,646 L626.8,643.3 L687.6,662.6 L715.2,659.9 L720.7,668.1 L687.6,665.4 L629.6,651.6 L610.2,657.1 L599.2,637.8 L571.5,637.8Z" fill="#66c3c4"/>
<path d="M737.3,684.7 L753.9,687.5 L770.4,673.7 L795.3,684.7 L806.4,695.8 L803.6,712.3 L781.5,731.7 L776,723.4 L773.2,706.8 L756.6,701.3 L740.1,698.5Z" fill="#66c3c4"/>
<path d="M731.8,607.4 L745.6,585.3 L781.5,588 L809.1,601.8 L828.5,607.4 L809.1,618.4 L795.3,623.9 L809.1,643.3 L828.5,654.3 L795.3,651.6 L776,648.8 L753.9,643.3 L726.2,643.3 L698.6,637.8 L726.2,632.2 L751.1,623.9Z" fill="#4fdb72"/>
<path d="M759.4,632.2 L781.5,626.7" fill="none" stroke="#2ecb8c" stroke-width="8" stroke-linecap="round" stroke-linejoin="round" opacity="0.8"/>
</g>
</g>
<g clip-path="url(#sbg)"><use href="#terrainIn"/></g>
<use href="#lakesg"/>
<use href="#mapfg"/>
<rect x="0" y="700.9" width="231.6" height="64.1" fill="#d9d9d9"/>
<text x="5.5" y="727.3" font-size="23.4" textLength="221.5" lengthAdjust="spacingAndGlyphs">© GeoSphere Austria</text>
<text x="6.3" y="761.3" font-size="23.4" textLength="139.7" lengthAdjust="spacingAndGlyphs">SPARTACUS</text>
</g>
<g transform="translate(1120,66)" clip-path="url(#frame)">
<use href="#mapbg"/>
<g clip-path="url(#sbg)">
<rect width="898" height="765" fill="#cf2f2a"/>
<g filter="url(#soft2)">
<path d="M0,0 L898,0 L898,765 L0,765Z" fill="#e2524d"/>
<path d="M358.3,0 L716.6,0 L716.6,242.6 L661.5,294.9 L639.5,281.1 L617.4,259.1 L584.3,250.8 L556.8,237 L537.5,231.5 L509.9,253.6 L523.7,286.7 L518.2,330.8 L507.2,314.2 L485.1,275.6 L468.6,248.1 L358.3,248.1Z" fill="#b8383f"/>
<path d="M276.5,264.4 L315.2,264.4 L334.5,272.7 L334.5,289.2 L320.7,305.8 L315.2,325.2 L317.9,339 L295.8,344.5 L279.2,350 L273.7,344.5 L287.5,325.2 L284.8,314.1 L273.7,305.8 L276.5,289.2Z" fill="#b8383f"/>
<path d="M301.3,377.6 L315.2,372.1 L331.7,383.2 L329,394.2 L304.1,399.7Z" fill="#b8383f"/>
<path d="M367.6,355.5 L378.7,363.8 L400.8,385.9 L422.9,397 L436.7,402.5 L453.3,388.7 L453.3,399.7 L467.1,410.8 L486.4,421.8 L475.4,432.9 L450.5,432.9 L442.2,416.3 L417.4,413.6 L392.5,405.3 L378.7,383.2 L367.6,366.6Z" fill="#b8383f"/>
<path d="M456,325.2 L464.3,316.9 L472.6,300.3 L483.7,305.8 L489.2,322.4 L483.7,339 L486.4,363.8 L472.6,377.6 L458.8,372.1 L458.8,352.8Z" fill="#b8383f"/>
<path d="M469.9,234 L511.3,234 L511.3,250.6 L538.9,272.7 L541.7,289.2 L550,311.3 L569.3,308.6 L591.4,311.3 L613.5,330.7 L610.7,339 L580.4,339 L574.8,327.9 L550,327.9 L516.8,330.7 L500.2,311.3 L489.2,283.7 L472.6,256.1Z" fill="#b8383f"/>
<path d="M527.9,234 L674,234 L674,261.6 L649.4,281 L632.8,269.9 L610.7,267.1 L583.1,250.6 L555.5,250.6 L527.9,245Z" fill="#b8383f"/>
<path d="M522.3,361.1 L530.6,350 L547.2,350 L555.5,355.5 L572.1,358.3 L574.8,369.4 L555.5,374.9 L538.9,380.4 L525.1,372.1Z" fill="#b8383f"/>
<path d="M224,468.8 L240.6,466 L268.2,460.5 L279.2,471.6 L279.2,482.6 L323.4,482.6 L323.4,493.7 L301.3,490.9 L268.2,496.4 L240.6,497.8 L224,493.7Z" fill="#b8383f"/>
<path d="M389.7,474.3 L403.6,470.2 L406.3,482.6 L392.5,486.8Z" fill="#b8383f"/>
<path d="M302.7,437 L312.4,435.7 L312.4,445.3 L304.1,446.7Z" fill="#b8383f"/>
<path d="M224,535.1 L240.6,548.9 L257.1,535.1 L271,537.9 L287.5,565.5 L306.9,546.2 L317.9,565.5 L334.5,543.4 L345.5,551.7 L340,579.3 L329,614.1 L224,614.1Z" fill="#b8383f"/>
<path d="M378.7,560 L389.7,535.1 L398,560 L411.8,546.2 L409.1,576.5 L395.3,593.1 L378.7,614.1 L356.6,614.1 L367.6,579.3Z" fill="#b8383f"/>
<path d="M439.5,593.1 L453.3,565.5 L458.8,579.3 L450.5,614.1 L436.7,614.1Z" fill="#b8383f"/>
<path d="M447.8,526.8 L453.3,526.8 L453.3,543.4 L447.8,543.4Z" fill="#b8383f"/>
<path d="M547.2,568.3 L569.3,560 L591.4,562.7 L610.7,551.7 L632.8,546.2 L674,537.9 L674,554.4 L654.9,557.2 L632.8,565.5 L610.7,582.1 L591.4,593.1 L577.6,614.1 L555.5,614.1 L566.5,587.6 L550,576.5Z" fill="#b8383f"/>
<path d="M494.7,576.5 L503,576.5 L516.8,601.4 L511.3,614.1 L503,601.4Z" fill="#b8383f"/>
<path d="M30.4,519 L47,496.9 L91.2,502.4 L116,496.9 L138.1,502.4 L138.1,513.4 L110.5,524.5 L82.9,532.8 L55.2,532.8 L35.9,530Z" fill="#b8383f"/>
<path d="M209.9,463.7 L234.8,463.7 L276.2,461 L279,477.5 L323.2,483.1 L323.2,491.3 L276.2,494.1 L243.1,496.9 L215.5,488.6 L207.2,477.5Z" fill="#b8383f"/>
<path d="M303.9,436.1 L312.2,436.1 L312.2,444.4 L303.9,444.4Z" fill="#b8383f"/>
<path d="M392.3,472 L403.3,470.6 L404.7,483.1 L393.6,484.4Z" fill="#b8383f"/>
<path d="M30.4,543.8 L55.2,538.3 L80.1,552.1 L102.2,563.2 L121.5,552.1 L149.2,535.5 L171.3,557.6 L182.3,535.5 L193.4,535.5 L204.4,563.2 L218.2,535.5 L234.8,552.1 L248.6,568.7 L259.7,579.7 L265.2,557.6 L256.9,535.5 L276.2,541.1 L298.3,538.3 L314.9,557.6 L326,546.6 L342.5,541.1 L348.1,563.2 L342.5,590.8 L326,607.4 L331.5,629.5 L356.4,607.4 L378.5,563.2 L386.7,535.5 L392.3,535.5 L408.8,552.1 L406.1,568.7 L386.7,590.8 L370.2,623.9 L386.7,623.9 L414.4,607.4 L436.5,601.8 L450,585.3 L450,690.2 L414.4,662.6 L359.1,635 L317.7,626.7 L281.8,635 L234.8,612.9 L207.2,596.3 L154.7,604.6 L99.4,651.6 L52.5,643.3 L30.4,593.6Z" fill="#b8383f"/>
<path d="M450,414 L485.9,414 L485.9,425 L466.6,433.3 L450,433.3Z" fill="#b8383f"/>
<path d="M543.9,623.9 L571.5,618.4 L582.6,590.8 L599.2,596.3 L626.8,640.5 L610.2,651.6 L599.2,637.8 L571.5,637.8 L543.9,635Z" fill="#b8383f"/>
<path d="M508,635 L541.2,623.9 L543.9,654.3 L532.9,670.9 L477.6,676.4 L463.8,690.2 L450,679.2 L450,657.1 L474.9,657.1 L491.4,651.6Z" fill="#b8383f"/>
<path d="M450,563.2 L458.3,568.7 L458.3,601.8 L450,607.4Z" fill="#b8383f"/>
<path d="M450,623.9 L463.8,635 L458.3,646 L450,648.8Z" fill="#b8383f"/>
<path d="M731.8,527.3 L748.3,521.7 L767.7,524.5 L781.5,513.4 L795.3,510.7 L798.1,524.5 L811.9,535.5 L809.1,557.6 L800.8,552.1 L800.8,535.5 L781.5,530 L776,552.1 L770.4,535.5 L751.1,541.1 L740.1,546.6 L731.8,538.3Z" fill="#b8383f"/>
<path d="M776,693 L789.8,684.7 L800.8,701.3 L798.1,720.6 L781.5,731.7 L776,717.9Z" fill="#b8383f"/>
<path d="M546.7,568.7 L566,560.4" fill="none" stroke="#b8383f" stroke-width="8" stroke-linecap="round" stroke-linejoin="round"/>
<path d="M593.6,535.5 L593.6,568.7 L577.1,590.8 L568.8,618.4" fill="none" stroke="#b8383f" stroke-width="9" stroke-linecap="round" stroke-linejoin="round"/>
<path d="M596.4,568.7 L643.4,549.4 L676.5,543.8" fill="none" stroke="#b8383f" stroke-width="9" stroke-linecap="round" stroke-linejoin="round"/>
<path d="M637.8,568.7 L668.2,579.7 L687.6,593.6" fill="none" stroke="#b8383f" stroke-width="9" stroke-linecap="round" stroke-linejoin="round"/>
<path d="M593.6,590.8 L615.7,596.3 L654.4,621.2" fill="none" stroke="#b8383f" stroke-width="8" stroke-linecap="round" stroke-linejoin="round"/>
<path d="M497,577 L513.5,601.8 L532.9,618.4" fill="none" stroke="#b8383f" stroke-width="7" stroke-linecap="round" stroke-linejoin="round"/>
<path d="M671,524.5 L698.6,527.3 L726.2,530" fill="none" stroke="#b8383f" stroke-width="7" stroke-linecap="round" stroke-linejoin="round"/>
<path d="M695.9,546.6 L709.7,565.9" fill="none" stroke="#b8383f" stroke-width="6" stroke-linecap="round" stroke-linejoin="round"/>
</g>
</g>
<g clip-path="url(#sbg)"><use href="#terrainIn"/></g>
<use href="#lakesg"/>
<use href="#mapfg"/>
<rect x="0" y="700.9" width="231.6" height="64.1" fill="#d9d9d9"/>
<text x="5.5" y="727.3" font-size="23.4" textLength="221.5" lengthAdjust="spacingAndGlyphs">© GeoSphere Austria</text>
<text x="6.3" y="761.3" font-size="23.4" textLength="139.7" lengthAdjust="spacingAndGlyphs">SPARTACUS</text>
</g>
<g transform="translate(116,1028)" clip-path="url(#frame)">
<use href="#mapbg"/>
<g clip-path="url(#sbg)">
<rect width="898" height="765" fill="#2f8fc0"/>
<g filter="url(#soft1)">
<path d="M0,0 L898,0 L898,765 L0,765Z" fill="#42a2cc"/>
<path d="M534.8,129.8 L543.1,116 L556.9,110.5 L559.7,82.9 L603.9,82.9 L603.9,185.1 L642.5,182.3 L648.1,190.6 L686.7,190.6 L686.7,248.6 L667.4,254.1 L653.6,265.2 L645.3,290.1 L659.1,298.3 L656.4,320.4 L642.5,345.3 L631.5,331.5 L603.9,312.2 L559.7,312.2 L534.8,298.3 L521,265.2 L504.4,226.5 L490.6,215.5 L487.8,179.6 L493.4,168.5 L509.9,163 L532,154.7Z" fill="#3a78c0"/>
<path d="M529.3,221 L548.6,218.2 L559.7,204.4 L587.3,207.2 L598.3,221 L598.3,248.6 L626,265.2 L653.6,265.2 L645.3,290.1 L617.7,292.8 L590.1,281.8 L565.2,270.7 L548.6,248.6 L534.8,237.6Z" fill="#2a52b4"/>
<path d="M461.6,44.2 L454.7,27.6 L471.3,52.5 L498.9,66.3 L501.7,91.2 L509.9,102.2 L504.4,116 L493.4,129.8 L482.3,143.6 L471.3,165.7 L443.6,165.7 L438.1,154.7 L421.5,110.5 L443.6,69.1Z" fill="#5cc2cc"/>
<path d="M540.3,63.5 L562.4,60.8 L568,71.8 L543.1,74.6Z" fill="#5cc2cc"/>
<path d="M355.2,27.6 L454.7,16.6 L461.6,44.2 L443.6,69.1 L421.5,110.5 L399.4,88.4 L369.1,82.9Z" fill="#92d6c6"/>
<path d="M391.2,209.9 L410.5,193.4 L432.6,165.7 L438.1,154.7 L443.6,165.7 L465.7,165.7 L471.3,179.6 L454.7,193.4 L435.4,205.8 L413.3,204.4 L402.2,221Z" fill="#5cc2cc"/>
<path d="M410.5,229.3 L432.6,221 L449.2,226.5 L438.1,237.6 L416,243.1Z" fill="#3a78c0"/>
<path d="M449.2,314.9 L476.8,276.2 L493.4,303.9 L504.4,331.5 L498.9,380.1 L449.2,380.1Z" fill="#3a78c0"/>
<path d="M449.2,326 L471.3,306.6 L487.8,331.5 L490.6,380.1 L449.2,380.1Z" fill="#2a52b4"/>
<path d="M482.3,276.2 L493.4,265.2 L509.9,303.9 L518.2,328.7 L512.7,359.1 L504.4,331.5 L493.4,303.9Z" fill="#5cc2cc" opacity="0.8"/>
<path d="M508.5,316.9 L536.2,314.1 L583.1,311.3 L627.3,316.9 L649.4,339 L643.9,377.6 L666,399.7 L674,427.4 L674,614.1 L472.6,614.1 L464.3,537.9 L450.5,515.8 L417.4,510.2 L362.1,515.8 L306.9,521.3 L251.6,521.3 L224,518.5 L224,500.6 L279.2,500.6 L334.5,499.7 L345.5,482.6 L342.8,443.9 L345.5,410.8 L367.6,408 L400.8,427.4 L411.8,443.9 L395.3,449.5 L378.7,443.9 L367.6,455 L373.2,482.6 L389.7,499.2 L433.9,477.1 L445,468.8 L467.1,474.3 L500.2,466 L527.9,427.4 L516.8,377.6Z" fill="#5cc2cc"/>
<path d="M643.9,377.6 L674,372.1 L674,443.9 L654.9,438.4 L638.4,410.8Z" fill="#42a2cc"/>
<path d="M649.4,383.2 L674,388.7 L674,432.9 L660.5,432.9 L649.4,410.8Z" fill="#3a78c0"/>
<path d="M505.8,234 L674,234 L674,275.4 L654.9,311.3 L610.7,308.6 L569.3,314.1 L541.7,308.6 L527.9,278.2Z" fill="#3a78c0"/>
<path d="M536.2,234 L596.9,234 L605.2,256.1 L638.4,261.6 L654.9,283.7 L638.4,289.2 L605.2,281 L577.6,275.4 L555.5,261.6Z" fill="#2a52b4"/>
<path d="M516.8,327.9 L563.8,325.2 L613.5,347.3 L610.7,374.9 L585.9,399.7 L550,394.2 L525.1,383.2Z" fill="#42a2cc"/>
<path d="M522.3,333.4 L563.8,330.7 L608,350 L605.2,372.1 L583.1,394.2 L550,388.7 L527.9,377.6Z" fill="#3a78c0"/>
<path d="M530.6,344.5 L555.5,341.7 L577.6,355.5 L574.8,372.1 L550,377.6 L533.4,366.6Z" fill="#2a52b4"/>
<path d="M248.9,261.6 L334.5,261.6 L362.1,350 L439.5,405.3 L500.2,399.7 L511.3,427.4 L500.2,443.9 L461.6,443.9 L428.4,427.4 L389.7,410.8 L362.1,388.7 L345.5,410.8 L334.5,443.9 L306.9,449.5 L279.2,438.4 L251.6,443.9 L224,452.2 L224,443.9 L273.7,427.4 L276.5,399.7 L304.1,383.2 L273.7,344.5 L287.5,325.2 L248.9,300.3Z" fill="#3a78c0"/>
<path d="M251.6,283.7 L265.4,264.4 L293.1,261.6 L315.2,264.4 L334.5,272.7 L329,289.2 L306.9,303.1 L298.6,325.2 L306.9,350 L304.1,377.6 L293.1,372.1 L284.8,355.5 L273.7,344.5 L287.5,325.2 L279.2,311.3 L254.4,305.8Z" fill="#2a52b4"/>
<path d="M340,289.2 L356.6,303.1 L342.8,316.9 L348.3,339 L362.1,347.3 L436.7,399.7 L456,383.2 L450.5,355.5 L458.8,339 L453.3,325.2 L464.3,316.9 L472.6,300.3 L489.2,316.9 L497.5,350 L492,377.6 L472.6,377.6 L458.8,399.7 L483.7,410.8 L489.2,427.4 L464.3,430.1 L450.5,413.6 L433.9,410.8 L403.6,399.7 L378.7,377.6 L356.6,355.5 L340,327.9Z" fill="#2a52b4"/>
<path d="M306.9,366.6 L329,372.1 L340,388.7 L329,399.7 L306.9,394.2Z" fill="#2a52b4"/>
<path d="M275.1,341.7 L287.5,337.6 L296.4,344.5 L294.4,354.2 L283.4,352.8Z" fill="#7058a8"/>
<path d="M313,383.2 L324.8,383.2 L324.8,388.7 L313.8,388.7Z" fill="#7058a8"/>
<path d="M224,455 L251.6,455 L273.7,452.2 L293.1,468.8 L306.9,482.6 L293.1,490.9 L251.6,490.9 L224,488.1Z" fill="#3a78c0"/>
<path d="M367.6,443.9 L389.7,438.4 L411.8,449.5 L433.9,455 L439.5,468.8 L417.4,482.6 L395.3,499.2 L378.7,496.4 L370.4,477.1Z" fill="#42a2cc"/>
<path d="M389.7,468.8 L406.3,468.8 L417.4,477.1 L400.8,482.6Z" fill="#3a78c0"/>
<path d="M306.9,410.8 L340,399.7 L345.5,427.4 L340,449.5 L315.2,443.9Z" fill="#42a2cc"/>
<path d="M359.4,413.6 L373.2,410.8 L400.8,430.1 L409.1,441.2 L395.3,446.7 L378.7,438.4 L367.6,452.2 L362.1,468.8 L348.3,482.6 L345.5,455Z" fill="#92d6c6"/>
<path d="M533.4,413.6 L544.4,416.3 L538.9,443.9 L530.6,471.6 L525.1,488.1 L500.2,493.7 L472.6,504.7 L450.5,502 L472.6,490.9 L511.3,488.1 L525.1,471.6 L530.6,438.4Z" fill="#92d6c6"/>
<path d="M472.6,504.7 L489.2,537.9 L494.7,614.1 L478.1,614.1 L472.6,565.5 L464.3,524.1 L453.3,506.1Z" fill="#92d6c6"/>
<path d="M522.3,548.9 L533.4,546.2 L550,571 L572.1,593.1 L574.8,614.1 L555.5,604.2 L527.9,579.3Z" fill="#92d6c6"/>
<path d="M505.8,292 L511.3,297.5 L519.6,316.9 L511.3,316.9Z" fill="#92d6c6"/>
<ellipse cx="561.0" cy="452.2" rx="10" ry="13" fill="#42a2cc"/>
<ellipse cx="508.5" cy="521.3" rx="14" ry="17" fill="#42a2cc"/>
<ellipse cx="555.5" cy="526.8" rx="13" ry="30" fill="#42a2cc"/>
<ellipse cx="591.4" cy="513.0" rx="11" ry="28" fill="#42a2cc"/>
<ellipse cx="638.4" cy="510.2" rx="13" ry="28" fill="#42a2cc"/>
<ellipse cx="508.5" cy="584.8" rx="6" ry="9" fill="#42a2cc"/>
<path d="M224,532.3 L259.9,529.6 L315.2,524.1 L356.6,532.3 L417.4,526.8 L428.4,537.9 L422.9,579.3 L445,521.3 L461.6,532.3 L469.9,565.5 L461.6,614.1 L224,614.1Z" fill="#42a2cc"/>
<path d="M259.9,535.1 L315.2,528.2 L353.8,537.9 L353.8,579.3 L345.5,614.1 L224,614.1 L224,565.5 L240.6,560 L251.6,537.9Z" fill="#3a78c0"/>
<path d="M373.2,533.7 L417.4,531 L422.9,551.7 L417.4,579.3 L400.8,590.4 L378.7,593.1 L373.2,565.5Z" fill="#3a78c0"/>
<path d="M367.6,590.4 L389.7,583.4 L417.4,593.1 L431.2,614.1 L356.6,614.1Z" fill="#3a78c0"/>
<path d="M446.4,526.8 L458.8,533.7 L466.5,565.5 L458.8,604.2 L446.4,593.1Z" fill="#3a78c0"/>
<path d="M284.8,548.9 L301.3,543.4 L309.6,565.5 L304.1,598.6 L290.3,604.2 L282,579.3Z" fill="#2a52b4"/>
<path d="M320.7,576.5 L340,562.7 L345.5,582.1 L329,614.1 L315.2,614.1Z" fill="#2a52b4"/>
<path d="M224,604.2 L246.1,593.1 L273.7,614.1 L224,614.1Z" fill="#2a52b4"/>
<path d="M27.6,496.9 L91.2,496.9 L127.1,480.3 L154.7,491.3 L193.4,483.1 L215.5,474.8 L207.2,452.7 L229.3,438.9 L276.2,414 L345.3,414 L342.5,441.6 L331.5,491.3 L193.4,492.7 L138.1,498.3 L55.2,535.5 L27.6,546.6Z" fill="#3a78c0"/>
<path d="M243.1,447.1 L276.2,433.3 L339.8,447.1 L337,490 L309.4,491.3 L303.9,474.8 L287.3,458.2 L265.2,458.2 L248.6,466.5Z" fill="#42a2cc"/>
<path d="M248.6,455.4 L276.2,447.1 L298.3,463.7 L303.9,483.1 L276.2,488.6 L254.1,477.5Z" fill="#3a78c0" opacity="0.8"/>
<path d="M345.3,441.6 L359.1,414 L408.8,414 L414.4,436.1 L408.8,444.4 L381.2,438.9 L367.4,455.4 L367.4,483.1 L345.3,494.1 L339.8,469.2Z" fill="#5cc2cc"/>
<path d="M27.6,568.7 L55.2,563.2 L82.9,568.7 L105,568.7 L116,590.8 L138.1,579.7 L160.2,557.6 L176.8,579.7 L193.4,563.2 L209.9,579.7 L232,563.2 L248.6,579.7 L265.2,568.7 L276.2,535.5 L317.7,546.6 L331.5,535.5 L356.4,546.6 L353.6,579.7 L326,590.8 L331.5,629.5 L367.4,607.4 L386.7,579.7 L414.4,568.7 L430.9,607.4 L450,623.9 L450,690.2 L359.1,640.5 L281.8,635 L207.2,596.3 L154.7,604.6 L99.4,651.6 L52.5,643.3 L27.6,593.6Z" fill="#3a78c0"/>
<path d="M284.5,552.1 L298.3,543.8 L309.4,557.6 L306.6,590.8 L292.8,604.6 L284.5,585.3Z" fill="#2a52b4"/>
<path d="M320.4,579.7 L339.8,563.2 L342.5,585.3 L326,607.4 L314.9,604.6Z" fill="#2a52b4"/>
<path d="M35.9,590.8 L55.2,582.5 L60.8,593.6 L47,607.4 L35.9,604.6Z" fill="#2a52b4"/>
<path d="M248.6,601.8 L265.2,593.6 L276.2,612.9 L262.4,621.2Z" fill="#2a52b4"/>
<path d="M392.3,635 L408.8,623.9 L430.9,640.5 L442,662.6 L450,679.2 L425.4,673.7 L408.8,657.1Z" fill="#2a52b4"/>
<path d="M406.1,643.3 L417.1,639.1 L430.9,668.1 L419.9,672.3Z" fill="#7058a8"/>
<path d="M74.6,590.8 L82.9,585.3 L93.9,607.4 L96.7,629.5 L82.9,632.2 L74.6,612.9Z" fill="#42a2cc"/>
<path d="M66.3,552.1 L71.8,535.5 L110.5,530 L143.6,519 L176.8,502.4 L248.6,502.4 L303.9,499.6 L359.1,496.9 L400.6,494.1 L450,494.1 L450,524.5 L414.4,524.5 L359.1,527.3 L331.5,530 L303.9,524.5 L265.2,527.3 L248.6,535.5 L243.1,546.6 L226.5,535.5 L209.9,552.1 L193.4,532.8 L176.8,546.6 L165.7,535.5 L143.6,552.1 L129.8,546.6 L121.5,563.2 L105,563.2 L82.9,557.6Z" fill="#5cc2cc"/>
<path d="M209.9,512.1 L250,511.2 L250,520.4 L211.3,521.2Z" fill="#92d6c6" opacity="0.7"/>
<path d="M69.1,546.6 L74.6,538.3 L110.5,532.8 L121.5,536.9 L82.9,552.1Z" fill="#92d6c6" opacity="0.45"/>
<path d="M466.6,505.2 L532.9,414 L919.6,414 L919.6,773.1 L472.1,773.1 L488.7,651.6 L477.6,623.9 L469.3,579.7Z" fill="#5cc2cc"/>
<path d="M450,414 L519.1,414 L516.3,441.6 L499.7,463.7 L477.6,477.5 L450,477.5Z" fill="#42a2cc"/>
<path d="M450,414 L502.5,414 L497,436.1 L477.6,452.7 L450,455.4Z" fill="#3a78c0"/>
<path d="M450,414 L488.7,414 L483.1,425 L466.6,430.6 L450,427.8Z" fill="#2a52b4"/>
<path d="M450,524.5 L463.8,535.5 L469.3,579.7 L477.6,623.9 L488.7,651.6 L472.1,679.2 L450,676.4Z" fill="#42a2cc"/>
<path d="M450,538.3 L461,552.1 L466.6,607.4 L472.1,662.6 L466.6,687.5 L450,679.2Z" fill="#3a78c0"/>
<path d="M450,623.9 L461,635 L466.6,676.4 L450,679.2Z" fill="#2a52b4"/>
<ellipse cx="560.5" cy="452.7" rx="10" ry="13" fill="#42a2cc"/>
<ellipse cx="508.0" cy="521.7" rx="14" ry="17" fill="#42a2cc"/>
<ellipse cx="640.6" cy="510.7" rx="15" ry="28" fill="#42a2cc"/>
<ellipse cx="509.4" cy="583.9" rx="5" ry="8" fill="#42a2cc"/>
<path d="M541.2,499.6 L555,494.1 L566,502.4 L571.5,535.5 L566,563.2 L557.7,552.1 L546.7,524.5Z" fill="#42a2cc"/>
<path d="M579.8,488.6 L593.6,483.1 L604.7,496.9 L604.7,524.5 L615.7,546.6 L643.4,546.6 L651.7,557.6 L626.8,568.7 L610.2,574.2 L593.6,563.2 L590.9,530 L582.6,507.9Z" fill="#42a2cc"/>
<path d="M673.8,480.3 L684.8,485.8 L687.6,510.7 L698.6,524.5 L684.8,535.5 L673.8,530 L671,502.4Z" fill="#42a2cc"/>
<path d="M626.8,414 L684.8,414 L679.3,430.6 L659.9,438.9 L640.6,433.3Z" fill="#42a2cc"/>
<path d="M530.1,643.3 L541.2,635 L560.5,632.2 L555,646 L541.2,662.6 L530.1,662.6Z" fill="#42a2cc" opacity="0.8"/>
<path d="M532.9,414 L545.3,414 L541.2,441.6 L532.9,469.2 L521.8,488.6 L491.4,496.9 L466.6,507.9 L450,505.2 L452.8,499.6 L483.1,491.3 L516.3,483.1 L527.3,455.4Z" fill="#92d6c6"/>
<path d="M466.6,507.9 L477.6,513.4 L480.4,538.3 L491.4,568.7 L505.2,601.8 L516.3,618.4 L499.7,626.7 L485.9,607.4 L477.6,579.7 L472.1,538.3Z" fill="#92d6c6"/>
<path d="M519.1,552.1 L530.1,546.6 L541.2,568.7 L560.5,585.3 L571.5,607.4 L566,618.4 L549.4,607.4 L530.1,585.3Z" fill="#92d6c6"/>
<path d="M621.3,612.9 L629.6,579.7 L659.9,582.5 L684.8,590.8 L693.1,579.7 L684.8,563.2 L715.2,563.2 L723.5,552.1 L737.3,560.4 L767.7,557.6 L792.5,543.8 L817.4,568.7 L869.9,607.4 L831.2,654.3 L806.4,695.8 L781.5,731.7 L773.2,706.8 L740.1,698.5 L715.2,662.6 L687.6,662.6 L648.9,643.3Z" fill="#92d6c6"/>
<path d="M726.2,607.4 L740.1,590.8 L748.3,579.7 L795.3,579.7 L817.4,593.6 L839.5,604.6 L831.2,618.4 L817.4,623.9 L820.2,635 L831.2,654.3 L817.4,668.1 L781.5,670.9 L753.9,672.3 L731.8,662.6 L715.2,654.3 L698.6,643.3 L684.8,626.7 L679.3,612.9 L690.3,612.9 L704.1,626.7 L720.7,623.9Z" fill="#d2e8b8"/>
</g>
</g>
<g clip-path="url(#sbg)"><use href="#terrainIn"/></g>
<use href="#lakesg"/>
<use href="#mapfg"/>
<rect x="0" y="700.9" width="231.6" height="64.1" fill="#d9d9d9"/>
<text x="5.5" y="727.3" font-size="23.4" textLength="221.5" lengthAdjust="spacingAndGlyphs">© GeoSphere Austria</text>
<text x="6.3" y="761.3" font-size="23.4" textLength="139.7" lengthAdjust="spacingAndGlyphs">SPARTACUS</text>
</g>
<g transform="translate(1120,1028)" clip-path="url(#frame)">
<use href="#mapbg"/>
<g clip-path="url(#sbg)">
<rect width="898" height="765" fill="#fff5b8"/>
<g filter="url(#soft2)">
<path d="M0,0 L898,0 L898,765 L0,765Z" fill="#f8efb5"/>
<path d="M157.5,496.9 L204.4,487.2 L215.5,473.4 L207.2,463.7 L209.9,449.9 L221,444.4 L248.6,441.6 L254.1,449.9 L254.1,463.7 L240.3,474.8 L236.2,485.8 L243.1,496.9 L254.1,503.8 L276.2,506.5 L345.3,502.4 L350.8,499.6 L359.1,506.5 L400.6,509.3 L430.9,505.2 L442,499.6 L453,501 L453,513.4 L442,512.1 L444.8,535.5 L447.5,557.6 L439.2,579.7 L430.9,590.8 L422.7,596.3 L414.4,585.3 L406.1,579.7 L403.3,571.5 L414.4,560.4 L419.9,541.1 L417.1,524.5 L406.1,520.4 L386.7,524.5 L370.2,527.3 L367.4,538.3 L372.9,560.4 L378.5,571.5 L359.1,574.2 L353.6,552.1 L348.1,532.8 L342.5,527.3 L331.5,532.8 L323.2,546.6 L320.4,560.4 L309.4,563.2 L306.6,543.8 L301.1,532.8 L287.3,538.3 L276.2,546.6 L270.7,541.1 L262.4,538.3 L259.7,546.6 L268,563.2 L265.2,568.7 L256.9,564.6 L248.6,552.1 L240.3,543.8 L226.5,539.7 L218.2,552.1 L212.7,556.3 L207.2,546.6 L198.9,535.5 L182.3,531.4 L171.3,524.5 L163,520.4 L156.1,507.9Z" fill="#e6e6e9"/>
<path d="M443.8,500.5 L485.1,495 L498.9,498.9 L474.1,512.7 L468.6,523.7 L452,509.9 L443.8,511.6Z" fill="#e6e6e9"/>
<path d="M95.3,640.5 L114.6,639.1 L110.5,648.8 L99.4,650.2Z" fill="#e6e6e9"/>
<path d="M639.5,237 L672.5,239.8 L661.5,259.1 L642.2,253.6Z" fill="#e6e6e9"/>
<path d="M250,610.1 L259.7,607.4 L276.2,614.3 L297,617 L288.7,619.8 L290.1,632.2 L281.8,633.6 L273.5,626.7 L256.9,619.8Z" fill="#f6c86c"/>
<path d="M556.8,540.2 L567.8,543 L578.8,556.8 L598.1,562.3 L600.9,584.3 L611.9,606.4 L617.4,622.9 L645,642.2 L650.5,650.5 L617.4,650.5 L600.9,639.5 L567.8,636.7 L545.7,642.2 L540.2,661.5 L518.2,669.8 L479.6,680.8 L471.3,650.5 L460.3,633.9 L468.6,611.9 L496.1,600.9 L501.6,578.8 L529.2,570.6 L543,551.3Z" fill="#f6c86c"/>
<path d="M771.8,700.1 L788.3,680.8 L810.3,683.6 L807.6,702.9 L793.8,722.1 L780,733.2 L774.5,716.6Z" fill="#f6c86c"/>
</g>
</g>
<g clip-path="url(#sbg)"><use href="#terrainIn"/></g>
<use href="#lakesg"/>
<use href="#mapfg"/>
<rect x="0" y="700.9" width="231.6" height="64.1" fill="#d9d9d9"/>
<text x="5.5" y="727.3" font-size="23.4" textLength="221.5" lengthAdjust="spacingAndGlyphs">© GeoSphere Austria</text>
<text x="6.3" y="761.3" font-size="23.4" textLength="139.7" lengthAdjust="spacingAndGlyphs">SPARTACUS</text>
</g>
<g transform="translate(116,1991)" clip-path="url(#frame)">
<use href="#mapbg"/>
<g clip-path="url(#sbg)">
<rect width="898" height="765" fill="#fbb04e"/>
<g filter="url(#soft1)">
<path d="M0,0 L898,0 L898,765 L0,765Z" fill="#f4b95e"/>
<path d="M427.1,176.8 L438.1,154.7 L377.3,55.2 L454.7,16.6 L603.9,55.2 L597,70.4 L592.8,92.5 L584.5,91.2 L581.8,82.9 L565.2,80.1 L556.9,85.6 L556.9,110.5 L559.7,138.1 L565.2,171.3 L548.6,176.8 L529.3,182.3 L521,193.4 L504.4,187.8 L487.8,176.8 L476.8,174 L482.3,193.4 L493.4,221 L504.4,243.1 L507.2,259.7 L493.4,270.7 L482.3,265.2 L468.5,248.6 L454.7,234.8 L438.1,232 L421.5,240.3 L399.4,237.6 L391.2,229.3 L407.7,209.9 L410.5,193.4Z" fill="#f4924e"/>
<path d="M374.6,55.2 L388.4,59.4 L396.7,41.4 L410.5,27.6 L421.5,38.7 L454.7,26.2 L471.3,52.5 L498.9,66.3 L504.4,74.6 L540.3,63.5 L559.7,52.5 L576.2,60.8 L584.5,69.1 L576.2,74.6 L559.7,73.2 L543.1,77.3 L537.6,91.2 L526.5,110.5 L512.7,121.5 L509.9,138.1 L515.5,149.2 L504.4,160.2 L493.4,151.9 L482.3,149.2 L465.7,149.2 L454.7,151.9 L443.6,149.2 L438.1,154.7 L443.6,165.7 L432.6,179.6 L421.5,182.3 L432.6,165.7 L399.4,82.9 L380.1,80.1Z" fill="#f76a50"/>
<path d="M427.1,91.2 L438.1,60.8 L443.6,38.7 L454.7,35.9 L454.7,55.2 L446.4,82.9 L440.9,110.5 L432.6,121.5 L424.3,116Z" fill="#f4924e"/>
<path d="M465.7,77.3 L485.1,77.3 L485.1,91.2 L465.7,91.2Z" fill="#f4924e"/>
<path d="M526.5,218.2 L543.1,212.7 L554.1,229.3 L576.2,234.8 L603.9,237.6 L598.3,248.6 L570.7,245.9 L548.6,243.1 L532,232Z" fill="#f4dc7c"/>
<path d="M565.2,212.7 L587.3,207.2 L601.1,221 L592.8,229.3 L573.5,223.8Z" fill="#f4dc7c"/>
<path d="M603.9,193.4 L626,187.8 L631.5,198.9 L609.4,201.7Z" fill="#f4dc7c"/>
<path d="M576.2,256.9 L590.1,254.1 L592.8,261 L579,262.4Z" fill="#f4dc7c"/>
<path d="M634.3,258.3 L645.3,256.9 L648.1,265.2 L637,266.6Z" fill="#f4dc7c"/>
<path d="M424.3,226.5 L438.1,225.1 L443.6,232 L429.8,234.8Z" fill="#f4dc7c"/>
<path d="M628.7,279 L642.5,276.2 L645.3,292.8 L631.5,292.8Z" fill="#f4dc7c"/>
<path d="M526.5,331.5 L548.6,326 L565.2,339.8 L581.8,353.6 L576.2,367.4 L554.1,356.4 L534.8,348.1Z" fill="#f4dc7c"/>
<path d="M463,309.4 L482.3,303.9 L498.9,326 L509.9,353.6 L498.9,370.2 L476.8,359.1 L465.7,331.5Z" fill="#f4dc7c"/>
<path d="M476.8,176.8 L493.4,182.3 L521,198.9 L548.6,187.8 L576.2,193.4 L603.9,190.6 L642.5,185.1 L667.4,193.4 L631.5,209.9 L626,237.6 L670.2,240.3 L659.1,265.2 L645.3,290.1 L603.9,276.2 L548.6,276.2 L521,248.6 L498.9,221Z" fill="#f6c969" opacity="0.6"/>
<path d="M498.9,281.8 L518.2,273.5 L526.5,292.8 L515.5,301.1 L501.7,292.8Z" fill="#f4924e"/>
<path d="M573.5,314.9 L590.1,309.4 L609.4,323.2 L603.9,331.5 L581.8,326Z" fill="#f4924e"/>
<path d="M617.7,334.3 L631.5,337 L631.5,342.5 L620.4,341.2Z" fill="#f4924e"/>
<path d="M248.9,261.6 L334.5,261.6 L362.1,350 L439.5,405.3 L458.8,388.7 L458.8,316.9 L500.2,344.5 L527.9,388.7 L550,427.4 L541.7,482.6 L516.8,499.2 L417.4,513 L306.9,521.3 L224,521.3 L224,443.9 L273.7,427.4 L276.5,399.7 L304.1,383.2 L273.7,344.5 L287.5,325.2 L248.9,300.3Z" fill="#f3b45b"/>
<path d="M224,522.7 L306.9,522.7 L417.4,514.4 L472.6,507.5 L516.8,499.2 L555.5,510.2 L596.9,482.6 L674,477.1 L674,614.1 L224,614.1Z" fill="#f6c969"/>
<path d="M362.1,524.1 L378.7,521.3 L373.2,548.9 L362.1,543.4Z" fill="#f3ad56"/>
<path d="M422.9,521.3 L439.5,518.5 L445,537.9 L467.1,548.9 L472.6,579.3 L456,593.1 L433.9,565.5 L428.4,537.9Z" fill="#f3ad56"/>
<path d="M480.9,526.8 L500.2,526.8 L511.3,551.7 L536.2,565.5 L555.5,543.4 L563.8,510.2 L591.4,499.2 L583.1,537.9 L563.8,565.5 L527.9,593.1 L494.7,579.3 L483.7,551.7Z" fill="#f3ad56"/>
<path d="M624.6,521.3 L674,510.2 L674,551.7 L643.9,546.2Z" fill="#f3ad56"/>
<path d="M472.6,234 L500.2,239.5 L508.5,258.9 L497.5,275.4 L483.7,267.1 L475.4,250.6Z" fill="#f4924e"/>
<path d="M500.2,281 L516.8,275.4 L527.9,289.2 L522.3,300.3 L505.8,294.8Z" fill="#f4924e"/>
<path d="M572.1,314.1 L588.6,311.3 L608,322.4 L605.2,330.7 L583.1,327.9Z" fill="#f4924e"/>
<path d="M334.5,408 L356.6,410.8 L378.7,416.3 L400.8,432.9 L395.3,441.2 L373.2,443.9 L353.8,446.7 L348.3,427.4Z" fill="#f4924e"/>
<path d="M298.6,408 L312.4,410.8 L315.2,416.3 L301.3,413.6Z" fill="#f4924e"/>
<path d="M431.2,443.9 L450.5,441.2 L458.8,449.5 L445,455Z" fill="#f4924e"/>
<path d="M453.3,482.6 L467.1,471.6 L489.2,477.1 L503,482.6 L500.2,493.7 L472.6,499.2 L453.3,496.4Z" fill="#f4924e"/>
<path d="M525.1,394.2 L536.2,397 L544.4,421.8 L552.7,427.4 L544.4,438.4 L533.4,427.4 L527.9,410.8Z" fill="#f4924e"/>
<path d="M530.6,468.8 L541.7,460.5 L545.8,471.6 L538.9,482.6 L530.6,479.9Z" fill="#f4924e"/>
<path d="M572.1,466 L610.7,449.5 L632.8,438.4 L660.5,437 L654.9,446.7 L624.6,455 L596.9,468.8 L577.6,477.1Z" fill="#f4924e"/>
<path d="M232.3,507.5 L251.6,504.7 L273.7,507.5 L271,514.4 L235,514.4Z" fill="#f4924e"/>
<path d="M309.6,510.2 L329,506.1 L342.8,510.2 L340,515.8 L312.4,515.8Z" fill="#f4924e"/>
<path d="M359.4,507.5 L373.2,504.7 L381.5,510.2 L373.2,514.4Z" fill="#f4924e"/>
<path d="M406.3,504.7 L417.4,502 L422.9,510.2 L414.6,513Z" fill="#f4924e"/>
<path d="M596.9,565.5 L610.7,562.7 L616.3,571 L602.5,573.8Z" fill="#f4924e"/>
<path d="M400.8,557.2 L409.1,551.7 L417.4,562.7 L406.3,568.3Z" fill="#f4924e"/>
<path d="M483.7,595.9 L497.5,593.1 L503,606.9 L489.2,609.7Z" fill="#f4924e"/>
<path d="M643.9,584.8 L674,582.1 L674,593.1 L654.9,595.9Z" fill="#f4924e"/>
<path d="M271,292 L287.5,286.5 L312.4,289.2 L315.2,297.5 L293.1,303.1 L273.7,300.3Z" fill="#f4dc7c"/>
<path d="M276.5,339 L295.8,333.4 L304.1,344.5 L290.3,350Z" fill="#f4dc7c"/>
<path d="M298.6,366.6 L317.9,363.8 L334.5,377.6 L331.7,388.7 L315.2,385.9 L304.1,377.6Z" fill="#f4dc7c"/>
<path d="M461.6,314.1 L483.7,311.3 L500.2,327.9 L514.1,344.5 L516.8,366.6 L500.2,372.1 L492,355.5 L472.6,344.5 L461.6,330.7Z" fill="#f4dc7c"/>
<path d="M527.9,330.7 L544.4,327.9 L569.3,339 L583.1,350 L583.1,361.1 L561,355.5 L538.9,344.5Z" fill="#f4dc7c"/>
<path d="M406.3,405.3 L433.9,399.7 L461.6,397 L486.4,405.3 L492,416.3 L472.6,421.8 L450.5,427.4 L428.4,424.6 L411.8,416.3Z" fill="#f4dc7c"/>
<path d="M377.3,460.5 L395.3,455 L407.7,463.3 L403.6,479.9 L387,485.4 L377.3,474.3Z" fill="#f4dc7c"/>
<path d="M308.3,432.9 L320.7,426 L330.4,432.9 L326.2,441.2 L312.4,442.6Z" fill="#f4dc7c"/>
<path d="M229.5,543.4 L246.1,537.9 L254.4,565.5 L240.6,587.6 L229.5,576.5Z" fill="#f4dc7c"/>
<path d="M271,537.9 L301.3,535.1 L317.9,551.7 L312.4,579.3 L293.1,593.1 L279.2,579.3 L268.2,560Z" fill="#f4dc7c"/>
<path d="M329,546.2 L345.5,540.6 L353.8,560 L342.8,576.5 L329,565.5Z" fill="#f4dc7c"/>
<path d="M367.6,579.3 L389.7,573.8 L411.8,582.1 L400.8,601.4 L378.7,604.2Z" fill="#f4dc7c"/>
<path d="M439.5,526.8 L453.3,521.3 L464.3,535.1 L456,543.4 L442.2,537.9Z" fill="#f4dc7c"/>
<path d="M472.6,510.2 L500.2,499.2 L522.3,499.2 L516.8,521.3 L494.7,524.1 L478.1,521.3Z" fill="#f4dc7c"/>
<path d="M566.5,551.7 L583.1,537.9 L610.7,526.8 L621.8,546.2 L605.2,565.5 L583.1,573.8 L569.3,565.5Z" fill="#f4dc7c"/>
<path d="M591.4,488.1 L610.7,482.6 L616.3,504.7 L602.5,510.2Z" fill="#f4dc7c"/>
<path d="M442.2,405.3 L461.6,402.5 L464.3,410.8 L445,414.9Z" fill="#f1ecb2"/>
<path d="M511.3,234 L555.5,234 L544.4,267.1 L527.9,289.2 L516.8,261.6Z" fill="#f3ad56" opacity="0.8"/>
<path d="M550,297.5 L583.1,289.2 L624.6,305.8 L638.4,325.2 L616.3,344.5 L588.6,333.4 L555.5,316.9Z" fill="#f3ad56" opacity="0.8"/>
<path d="M591.4,363.8 L616.3,355.5 L638.4,377.6 L674,388.7 L674,427.4 L638.4,427.4 L610.7,399.7Z" fill="#f3ad56" opacity="0.8"/>
<path d="M511.3,372.1 L525.1,388.7 L527.9,427.4 L550,443.9 L569.3,427.4 L591.4,405.3 L563.8,388.7 L541.7,366.6Z" fill="#f3ad56" opacity="0.8"/>
<path d="M27.6,496.9 L91.2,496.9 L127.1,480.3 L154.7,491.3 L193.4,483.1 L215.5,474.8 L207.2,452.7 L229.3,438.9 L276.2,414 L450,414 L450,519 L359.1,520.4 L276.2,521.7 L193.4,523.1 L143.6,530 L110.5,543.8 L82.9,546.6 L55.2,543.8 L27.6,546.6Z" fill="#f3b25a"/>
<path d="M27.6,543.8 L55.2,543.8 L82.9,546.6 L110.5,543.8 L143.6,530 L193.4,523.1 L276.2,521.7 L359.1,520.4 L450,519 L450,690.2 L359.1,640.5 L281.8,635 L207.2,596.3 L154.7,604.6 L99.4,651.6 L52.5,643.3 L27.6,593.6Z" fill="#f6c969"/>
<path d="M91.2,557.6 L110.5,546.6 L129.8,552.1 L138.1,543.8 L154.7,546.6 L171.3,535.5 L193.4,543.8 L204.4,535.5 L221,552.1 L237.6,538.3 L256.9,546.6 L273.5,535.5 L292.8,543.8 L320.4,535.5 L326,552.1 L345.3,557.6 L356.4,568.7 L375.7,577 L364.6,590.8 L339.8,585.3 L320.4,596.3 L292.8,601.8 L273.5,604.6 L248.6,612.9 L226.5,604.6 L207.2,596.3 L171.3,599.1 L154.7,604.6 L132.6,607.4 L110.5,604.6 L99.4,585.3Z" fill="#f4dc7c"/>
<path d="M154.7,552.1 L165.7,563.2 L171.3,590.8 L160.2,590.8 L153.3,568.7Z" fill="#f6c969" opacity="0.9"/>
<path d="M193.4,552.1 L209.9,568.7 L221,590.8 L209.9,590.8 L193.4,574.2Z" fill="#f6c969" opacity="0.9"/>
<path d="M270.7,552.1 L276.2,568.7 L292.8,579.7 L281.8,590.8 L265.2,579.7Z" fill="#f6c969" opacity="0.9"/>
<path d="M52.5,560.4 L69.1,557.6 L77.3,568.7 L66.3,579.7 L55.2,574.2Z" fill="#f4dc7c"/>
<path d="M317.7,618.4 L337,612.9 L345.3,629.5 L331.5,635Z" fill="#f4dc7c"/>
<path d="M367.4,629.5 L386.7,607.4 L414.4,590.8 L430.9,607.4 L414.4,635 L430.9,662.6 L450,673.7 L450,690.2 L400.6,657.1Z" fill="#f4dc7c"/>
<path d="M82.9,618.4 L93.9,614.3 L107.7,623.9 L102.2,632.2 L88.4,628.1Z" fill="#f3ad56"/>
<path d="M400.6,560.4 L408.8,550.7 L417.1,563.2 L411.6,568.7Z" fill="#f3ad56"/>
<path d="M52.5,607.4 L82.9,604.6 L116,623.9 L99.4,651.6 L52.5,643.3Z" fill="#f3ad56"/>
<path d="M160.2,499.6 L193.4,494.1 L215.5,499.6 L215.5,510.7 L193.4,514.8 L165.7,513.4Z" fill="#f4924e"/>
<path d="M234.8,505.2 L270.7,505.2 L273.5,513.4 L237.6,514.8Z" fill="#f4924e"/>
<path d="M312.2,506.5 L339.8,506.5 L342.5,514.8 L312.2,514.8Z" fill="#f4924e"/>
<path d="M356.4,507.9 L381.2,506.5 L381.2,513.4 L359.1,514.8Z" fill="#f4924e"/>
<path d="M91.2,527.3 L118.8,521.7 L127.1,527.3 L110.5,532.8 L91.2,532.8Z" fill="#f4924e"/>
<path d="M44.2,535.5 L55.2,532.8 L59.4,541.1 L49.7,545.2Z" fill="#f4924e"/>
<path d="M350.8,414 L386.7,414 L400.6,436.1 L381.2,441.6 L353.6,438.9Z" fill="#f4924e"/>
<path d="M430.9,441.6 L450,438.9 L450,455.4 L442,452.7Z" fill="#f4924e"/>
<path d="M218.2,461 L248.6,455.4 L276.2,452.7 L298.3,463.7 L331.5,466.5 L339.8,474.8 L317.7,483.1 L290.1,480.3 L262.4,488.6 L234.8,488.6 L221,477.5Z" fill="#f6c969"/>
<path d="M309.4,430.6 L326,426.4 L331.5,437.5 L317.7,444.4Z" fill="#f6c969"/>
<path d="M378.5,458.2 L397.8,455.4 L408.8,469.2 L400.6,483.1 L384,483.1 L375.7,472Z" fill="#f6c969"/>
<path d="M69.1,505.2 L91.2,502.4 L143.6,499.6 L138.1,507.9 L91.2,513.4 L71.8,516.2Z" fill="#f6c969"/>
<path d="M450,414 L684.8,414 L695.9,483.1 L604.7,496.9 L566,502.4 L555,546.6 L532.9,568.7 L491.4,563.2 L466.6,552.1 L450,546.6Z" fill="#f3ad56"/>
<path d="M604.7,472 L643.4,469.2 L684.8,463.7 L698.6,519 L726.2,524.5 L726.2,557.6 L693.1,557.6 L643.4,585.3 L604.7,579.7 L579.8,568.7 L593.6,524.5Z" fill="#f6c969"/>
<path d="M452.8,480.3 L469.3,472 L497,474.8 L505.2,485.8 L491.4,496.9 L461,499.6Z" fill="#f4924e"/>
<path d="M530.1,466.5 L541.2,461 L546.7,474.8 L538.4,483.1 L528.7,478.9Z" fill="#f4924e"/>
<path d="M530.1,414 L549.4,414 L555,427.8 L543.9,438.9 L532.9,430.6Z" fill="#f4924e"/>
<path d="M571.5,469.2 L593.6,461 L615.7,449.9 L643.4,436.1 L662.7,438.9 L654.4,449.9 L626.8,461 L604.7,469.2 L582.6,480.3Z" fill="#f4924e"/>
<path d="M466.6,530 L494.2,524.5 L513.5,543.8 L532.9,563.2 L555,546.6 L566,502.4 L588.1,505.2 L593.6,524.5 L571.5,546.6 L560.5,568.7 L532.9,568.7 L491.4,563.2 L466.6,552.1Z" fill="#f3ad56"/>
<path d="M646.1,588 L668.2,582.5 L682,593.6 L690.3,607.4 L715.2,610.1 L726.2,623.9 L698.6,629.5 L671,623.9 L659.9,604.6Z" fill="#f3ad56"/>
<path d="M477.6,585.3 L497,590.8 L502.5,607.4 L488.7,604.6Z" fill="#f3ad56"/>
<path d="M477.6,505.2 L513.5,496.9 L524.6,507.9 L505.2,521.7 L480.4,516.2Z" fill="#f4dc7c"/>
<path d="M568.8,552.1 L604.7,524.5 L618.5,535.5 L621.3,552.1 L599.2,563.2 L577.1,574.2Z" fill="#f4dc7c"/>
<path d="M530.1,596.3 L546.7,590.8 L577.1,623.9 L571.5,635 L543.9,626.7 L532.9,612.9Z" fill="#f4dc7c"/>
<path d="M505.2,626.7 L527.3,621.2 L538.4,635 L521.8,643.3Z" fill="#f4dc7c"/>
<path d="M593.6,623.9 L615.7,618.4 L637.8,640.5 L615.7,648.8 L604.7,643.3Z" fill="#f4dc7c"/>
<path d="M458.3,657.1 L485.9,635 L499.7,648.8 L541.2,654.3 L541.2,665.4 L466.6,687.5 L450,679.2Z" fill="#f4dc7c"/>
<path d="M593.6,582.5 L613,582.5 L613,590.8 L596.4,590.8Z" fill="#f4dc7c"/>
<path d="M621.3,596.3 L640.6,599.1 L643.4,607.4 L626.8,604.6Z" fill="#f4dc7c"/>
<path d="M693.1,557.6 L726.2,557.6 L814.6,543.8 L869.9,607.4 L831.2,654.3 L806.4,695.8 L781.5,731.7 L773.2,706.8 L740.1,698.5 L715.2,662.6 L698.6,643.3 L693.1,607.4Z" fill="#f3ad56"/>
<path d="M726.2,596.3 L742.8,579.7 L762.2,577 L781.5,579.7 L798.1,571.5 L817.4,571.5 L845,593.6 L869.9,607.4 L847.8,611.5 L820.2,632.2 L831.2,654.3 L803.6,643.3 L781.5,640.5 L776,648.8 L753.9,648.8 L731.8,640.5 L698.6,637.8 L698.6,626.7 L715.2,621.2 L737.3,623.9 L729,610.1Z" fill="#f4924e"/>
<path d="M726.2,538.3 L737.3,527.3 L767.7,524.5 L781.5,519 L795.3,509.3 L798.1,524.5 L814.6,543.8 L806.4,549.4 L787,546.6 L762.2,552.1 L740.1,549.4Z" fill="#f4dc7c"/>
<path d="M715.2,657.1 L731.8,657.1 L731.8,670.9 L718,669.5Z" fill="#f4924e"/>
<path d="M789.8,693 L803.6,690.2 L806.4,701.3 L795.3,706.8Z" fill="#f4dc7c" opacity="0.8"/>
<path d="M803.6,670.9 L811.9,668.1 L813.3,682 L806.4,684.7Z" fill="#f4dc7c" opacity="0.8"/>
</g>
</g>
<g clip-path="url(#sbg)"><use href="#terrainIn"/></g>
<use href="#lakesg"/>
<use href="#mapfg"/>
<rect x="0" y="700.9" width="231.6" height="64.1" fill="#d9d9d9"/>
<text x="5.5" y="727.3" font-size="23.4" textLength="221.5" lengthAdjust="spacingAndGlyphs">© GeoSphere Austria</text>
<text x="6.3" y="761.3" font-size="23.4" textLength="139.7" lengthAdjust="spacingAndGlyphs">SPARTACUS</text>
</g>
<g transform="translate(1120,1991)" clip-path="url(#frame)">
<use href="#mapbg"/>
<g clip-path="url(#sbg)">
<rect width="898" height="765" fill="#fbd77a"/>
<g filter="url(#soft2)">
<path d="M0,0 L898,0 L898,765 L0,765Z" fill="#f6d383"/>
<path d="M224,452.2 L259.9,441.2 L265.4,438.4 L271,443.9 L287.5,452.2 L290.3,457.8 L295.8,452.2 L315.2,449.5 L329,455 L317.9,466 L329,477.1 L331.7,488.1 L326.2,499.2 L334.5,503.3 L359.4,503.3 L364.9,493.7 L359.4,477.1 L367.6,457.8 L381.5,438.4 L384.2,432.9 L398,431.5 L392.5,424.6 L381.5,419.1 L378.7,410.8 L384.2,399.7 L378.7,385.9 L367.6,372.1 L359.4,363.8 L356.6,350 L436.7,401.1 L456,383.2 L450.5,355.5 L458.8,339 L453.3,325.2 L464.3,316.9 L474,308.6 L475.4,325.2 L469.9,336.2 L467.1,344.5 L483.7,344.5 L492,347.3 L494.7,377.6 L503,399.7 L508.5,427.4 L505.8,455 L500.2,474.3 L503,482.6 L511.3,490.9 L516.8,492.3 L527.9,499.2 L533.4,499.2 L536.2,482.6 L544.4,477.1 L555.5,477.1 L561,488.1 L566.5,496.4 L577.6,496.4 L580.4,482.6 L594.2,479.9 L602.5,488.1 L608,496.4 L613.5,493.7 L619,486.8 L646.7,485.4 L674,479.9 L721.2,482.6 L721.2,814.1 L224,814.1 L113.5,786.5 L113.5,455Z" fill="#f7f3ae"/>
<path d="M558.3,264.4 L572.1,257.5 L591.4,264.4 L608,278.2 L609.4,289.2 L596.9,296.2 L583.1,283.7 L561,281Z" fill="#f7f3ae"/>
<path d="M624.6,289.2 L635.6,275.4 L649.4,274.1 L654.9,297.5 L646.7,308.6 L632.8,312.7 L624.6,303.1Z" fill="#f7f3ae"/>
<path d="M527.9,344.5 L536.2,332.1 L544.4,333.4 L544.4,339 L555.5,339 L555.5,332.1 L569.3,332.1 L572.1,339 L580.4,333.4 L588.6,336.2 L585.9,347.3 L602.5,347.3 L602.5,366.6 L594.2,388.7 L583.1,402.5 L572.1,405.3 L555.5,397 L541.7,377.6 L530.6,363.8Z" fill="#f7f3ae"/>
<path d="M652.2,372.1 L666,377.6 L674,385.9 L660.5,385.9Z" fill="#f7f3ae"/>
<path d="M27.6,496.9 L91.2,496.9 L127.1,480.3 L154.7,491.3 L193.4,483.1 L209.9,469.2 L207.2,458.2 L221,461 L226.5,477.5 L237.6,491.3 L262.4,499.6 L292.8,502.4 L292.8,507.9 L276.2,519 L265.2,530 L254.1,543.8 L229.3,541.1 L212.7,563.2 L209.9,568.7 L237.6,585.3 L248.6,599.1 L265.2,604.6 L276.2,599.1 L290.1,610.1 L306.6,611.5 L320.4,612.9 L339.8,607.4 L348.1,612.9 L359.1,629.5 L372.9,643.3 L359.1,646 L317.7,632.2 L281.8,637.8 L234.8,615.7 L207.2,599.1 L154.7,607.4 L99.4,654.3 L52.5,646 L24.9,593.6Z" fill="#f6d383"/>
<path d="M125.7,564.6 L138.1,549.4 L154.7,541.1 L171.3,546.6 L179.6,552.1 L196.1,539.7 L204.4,557.6 L204.4,574.2 L179.6,574.2 L165.7,579.7 L149.2,577 L140.9,582.5 L129.8,579.7Z" fill="#f7f3ae"/>
<path d="M262.4,436.1 L276.2,411.2 L381.2,411.2 L397.8,427.8 L397.8,433.3 L381.2,436.1 L372.9,452.7 L361.9,469.2 L364.6,494.1 L356.4,502.4 L331.5,502.4 L326,494.1 L331.5,480.3 L326,469.2 L317.7,463.7 L328.7,455.4 L320.4,449.9 L292.8,449.9 L287.3,455.4 L281.8,444.4Z" fill="#f6d383"/>
<path d="M47,632.2 L60.8,632.2 L66.3,641.9 L53.9,644.7Z" fill="#f89c5a"/>
<path d="M77.3,628.1 L88.4,628.1 L102.2,640.5 L96.7,647.4 L80.1,636.4Z" fill="#f89c5a"/>
<path d="M378.5,577 L384,557.6 L395,546.6 L408.8,549.4 L406.1,563.2 L395,577 L384,581.1Z" fill="#efeef3"/>
<path d="M505.2,408.5 L698.6,408.5 L698.6,474.8 L679.3,480.3 L668.2,488.6 L657.2,491.3 L646.1,483.1 L629.6,485.8 L615.7,485.8 L613,496.9 L604.7,496.9 L599.2,485.8 L596.4,480.3 L582.6,480.3 L577.1,496.9 L566,496.9 L560.5,483.1 L555,476.2 L538.4,480.3 L532.9,496.9 L530.1,502.4 L519.1,494.1 L499.7,485.8 L499.7,461 L505.2,441.6Z" fill="#f6d383"/>
<path d="M582.6,635 L593.6,623.9 L615.7,628.1 L618.5,607.4 L629.6,588 L648.9,577 L665.5,570.1 L682,577 L704.1,565.9 L709.7,546.6 L723.5,539.7 L734.5,543.8 L756.6,532.8 L773.2,538.3 L792.5,524.5 L820.2,546.6 L880.9,607.4 L836.7,657.1 L809.1,698.5 L781.5,740 L767.7,709.6 L737.3,701.3 L712.4,665.4 L687.6,665.4 L626.8,648.8 L610.2,657.1 L599.2,640.5Z" fill="#f6d383"/>
<path d="M458.3,687.5 L472.1,673.7 L505.2,668.1 L541.2,662.6 L543.9,669.5 L466.6,693Z" fill="#f6d383"/>
<path d="M224,576.5 L240.6,590.4 L251.6,601.4 L273.7,598.6 L295.8,609.7 L315.2,618 L224,618Z" fill="#f6d383"/>
<path d="M374.6,55.2 L396.7,38.7 L410.5,24.9 L454.7,23.5 L471.3,52.5 L498.9,69.1 L540.3,63.5 L559.7,49.7 L601.1,69.1 L599.7,82.9 L584.5,95.3 L581.8,82.9 L565.2,80.1 L556.9,85.6 L556.9,110.5 L559.7,138.1 L565.2,171.3 L568,175.4 L548.6,178.2 L534.8,189.2 L515.5,193.4 L496.1,194.8 L493.4,207.2 L497.5,209.9 L490.6,221 L479.6,237.6 L476.8,226.5 L465.7,212.7 L449.2,209.9 L429.8,212.7 L416,221 L405,226.5 L388.4,230.7 L405,209.9 L407.7,193.4 L429.8,165.7 L396.7,82.9 L377.3,80.1Z" fill="#f7b765"/>
<path d="M373.2,55.2 L388.4,59.4 L396.7,41.4 L410.5,34.5 L416,49.7 L418.8,71.8 L427.1,96.7 L432.6,124.3 L435.4,143.6 L421.5,116 L405,88.4 L378.7,81.5Z" fill="#f89c5a"/>
<path d="M454.7,320.4 L471.3,309.4 L474,331.5 L493.4,345.3 L493.4,380.1 L454.7,380.1Z" fill="#f7f3ae"/>
<path d="M529.3,339.8 L543.1,331.5 L584.5,334.3 L592.8,345.3 L601.1,348.1 L603.9,380.1 L534.8,380.1Z" fill="#f7f3ae"/>
<path d="M559.7,265.2 L570.7,258.3 L592.8,265.2 L606.6,279 L608,290.1 L595.6,295.6 L581.8,281.8 L562.4,279Z" fill="#f7f3ae"/>
<path d="M626,281.8 L639.8,273.5 L653.6,276.2 L656.4,301.1 L645.3,312.2 L628.7,309.4 L623.2,295.6Z" fill="#f7f3ae"/>
</g>
</g>
<g clip-path="url(#sbg)"><use href="#terrainIn"/></g>
<use href="#lakesg"/>
<use href="#mapfg"/>
<rect x="0" y="700.9" width="231.6" height="64.1" fill="#d9d9d9"/>
<text x="5.5" y="727.3" font-size="23.4" textLength="221.5" lengthAdjust="spacingAndGlyphs">© GeoSphere Austria</text>
<text x="6.3" y="761.3" font-size="23.4" textLength="139.7" lengthAdjust="spacingAndGlyphs">SPARTACUS</text>
</g>
<g>
<rect x="306.70" y="854" width="58.10" height="34.5" fill="#67dcfd"/>
<rect x="364.30" y="854" width="58.10" height="34.5" fill="#9af4fd"/>
<rect x="421.90" y="854" width="58.10" height="34.5" fill="#cdfefe"/>
<rect x="479.50" y="854" width="58.10" height="34.5" fill="#72a8bc"/>
<rect x="537.10" y="854" width="58.10" height="34.5" fill="#58babd"/>
<rect x="594.70" y="854" width="58.10" height="34.5" fill="#12cb86"/>
<rect x="652.30" y="854" width="58.10" height="34.5" fill="#30df68"/>
<rect x="709.90" y="854" width="58.10" height="34.5" fill="#6df73f"/>
<rect x="767.50" y="854" width="58.10" height="34.5" fill="#a3f70e"/>
<rect x="306.7" y="854" width="518.4" height="34.5" fill="none" stroke="#000" stroke-width="1.8"/>
<line x1="306.70" y1="888.5" x2="306.70" y2="897.0" stroke="#000" stroke-width="1.6"/>
<text x="306.70" y="920.7" font-size="22.6" text-anchor="middle">-6</text>
<line x1="364.30" y1="888.5" x2="364.30" y2="897.0" stroke="#000" stroke-width="1.6"/>
<text x="364.30" y="920.7" font-size="22.6" text-anchor="middle">-4</text>
<line x1="421.90" y1="888.5" x2="421.90" y2="897.0" stroke="#000" stroke-width="1.6"/>
<text x="421.90" y="920.7" font-size="22.6" text-anchor="middle">-2</text>
<line x1="479.50" y1="888.5" x2="479.50" y2="897.0" stroke="#000" stroke-width="1.6"/>
<text x="479.50" y="920.7" font-size="22.6" text-anchor="middle">0</text>
<line x1="537.10" y1="888.5" x2="537.10" y2="897.0" stroke="#000" stroke-width="1.6"/>
<text x="537.10" y="920.7" font-size="22.6" text-anchor="middle">2</text>
<line x1="594.70" y1="888.5" x2="594.70" y2="897.0" stroke="#000" stroke-width="1.6"/>
<text x="594.70" y="920.7" font-size="22.6" text-anchor="middle">4</text>
<line x1="652.30" y1="888.5" x2="652.30" y2="897.0" stroke="#000" stroke-width="1.6"/>
<text x="652.30" y="920.7" font-size="22.6" text-anchor="middle">6</text>
<line x1="709.90" y1="888.5" x2="709.90" y2="897.0" stroke="#000" stroke-width="1.6"/>
<text x="709.90" y="920.7" font-size="22.6" text-anchor="middle">8</text>
<line x1="767.50" y1="888.5" x2="767.50" y2="897.0" stroke="#000" stroke-width="1.6"/>
<text x="767.50" y="920.7" font-size="22.6" text-anchor="middle">10</text>
<line x1="825.10" y1="888.5" x2="825.10" y2="897.0" stroke="#000" stroke-width="1.6"/>
<text x="825.10" y="920.7" font-size="22.6" text-anchor="middle">12</text>
</g>
<g>
<rect x="1143.20" y="855" width="66.16" height="33.6" fill="#08306b"/>
<rect x="1208.86" y="855" width="66.16" height="33.6" fill="#08519c"/>
<rect x="1274.52" y="855" width="66.16" height="33.6" fill="#3182bd"/>
<rect x="1340.18" y="855" width="66.16" height="33.6" fill="#6baed6"/>
<rect x="1405.85" y="855" width="66.16" height="33.6" fill="#b0d2e7"/>
<rect x="1471.51" y="855" width="66.16" height="33.6" fill="#d6e6f4"/>
<rect x="1537.17" y="855" width="66.16" height="33.6" fill="#f7f7f7"/>
<rect x="1602.83" y="855" width="66.16" height="33.6" fill="#fee0d2"/>
<rect x="1668.49" y="855" width="66.16" height="33.6" fill="#fcab8f"/>
<rect x="1734.15" y="855" width="66.16" height="33.6" fill="#fb6a4a"/>
<rect x="1799.82" y="855" width="66.16" height="33.6" fill="#de2d26"/>
<rect x="1865.48" y="855" width="66.16" height="33.6" fill="#a50f15"/>
<rect x="1931.14" y="855" width="66.16" height="33.6" fill="#67000d"/>
<rect x="1143.2" y="855" width="853.6" height="33.6" fill="none" stroke="#000" stroke-width="1.8"/>
<line x1="1208.86" y1="888.6" x2="1208.86" y2="897.1" stroke="#000" stroke-width="1.6"/>
<text x="1208.86" y="921" font-size="22.6" text-anchor="middle">-2,75</text>
<line x1="1274.52" y1="888.6" x2="1274.52" y2="897.1" stroke="#000" stroke-width="1.6"/>
<text x="1274.52" y="921" font-size="22.6" text-anchor="middle">-2,25</text>
<line x1="1340.18" y1="888.6" x2="1340.18" y2="897.1" stroke="#000" stroke-width="1.6"/>
<text x="1340.18" y="921" font-size="22.6" text-anchor="middle">-1,75</text>
<line x1="1405.85" y1="888.6" x2="1405.85" y2="897.1" stroke="#000" stroke-width="1.6"/>
<text x="1405.85" y="921" font-size="22.6" text-anchor="middle">-1,25</text>
<line x1="1471.51" y1="888.6" x2="1471.51" y2="897.1" stroke="#000" stroke-width="1.6"/>
<text x="1471.51" y="921" font-size="22.6" text-anchor="middle">-0,75</text>
<line x1="1537.17" y1="888.6" x2="1537.17" y2="897.1" stroke="#000" stroke-width="1.6"/>
<text x="1537.17" y="921" font-size="22.6" text-anchor="middle">-0,25</text>
<line x1="1602.83" y1="888.6" x2="1602.83" y2="897.1" stroke="#000" stroke-width="1.6"/>
<text x="1602.83" y="921" font-size="22.6" text-anchor="middle">+0,25</text>
<line x1="1668.49" y1="888.6" x2="1668.49" y2="897.1" stroke="#000" stroke-width="1.6"/>
<text x="1668.49" y="921" font-size="22.6" text-anchor="middle">+0,75</text>
<line x1="1734.15" y1="888.6" x2="1734.15" y2="897.1" stroke="#000" stroke-width="1.6"/>
<text x="1734.15" y="921" font-size="22.6" text-anchor="middle">+1,25</text>
<line x1="1799.82" y1="888.6" x2="1799.82" y2="897.1" stroke="#000" stroke-width="1.6"/>
<text x="1799.82" y="921" font-size="22.6" text-anchor="middle">+1,75</text>
<line x1="1865.48" y1="888.6" x2="1865.48" y2="897.1" stroke="#000" stroke-width="1.6"/>
<text x="1865.48" y="921" font-size="22.6" text-anchor="middle">+2,25</text>
<line x1="1931.14" y1="888.6" x2="1931.14" y2="897.1" stroke="#000" stroke-width="1.6"/>
<text x="1931.14" y="921" font-size="22.6" text-anchor="middle">+2,75</text>
</g>
<g>
<rect x="171.60" y="1816.7" width="61.18" height="33.5" fill="#f7f7f7"/>
<rect x="232.28" y="1816.7" width="61.18" height="33.5" fill="#ffffd9"/>
<rect x="292.95" y="1816.7" width="61.18" height="33.5" fill="#edf8b1"/>
<rect x="353.63" y="1816.7" width="61.18" height="33.5" fill="#c7e9b4"/>
<rect x="414.31" y="1816.7" width="61.18" height="33.5" fill="#7fcdbb"/>
<rect x="474.98" y="1816.7" width="61.18" height="33.5" fill="#41b6c4"/>
<rect x="535.66" y="1816.7" width="61.18" height="33.5" fill="#1d91c0"/>
<rect x="596.34" y="1816.7" width="61.18" height="33.5" fill="#225ea8"/>
<rect x="657.02" y="1816.7" width="61.18" height="33.5" fill="#0c3ba3"/>
<rect x="717.69" y="1816.7" width="61.18" height="33.5" fill="#5a4a99"/>
<rect x="778.37" y="1816.7" width="61.18" height="33.5" fill="#952d86"/>
<rect x="839.05" y="1816.7" width="61.18" height="33.5" fill="#be2248"/>
<rect x="899.72" y="1816.7" width="61.18" height="33.5" fill="#e85a4a"/>
<rect x="171.6" y="1816.7" width="788.8" height="33.5" fill="none" stroke="#000" stroke-width="1.8"/>
<line x1="171.60" y1="1850.2" x2="171.60" y2="1858.7" stroke="#000" stroke-width="1.6"/>
<text x="171.60" y="1882.7" font-size="22.6" text-anchor="middle">0</text>
<line x1="232.28" y1="1850.2" x2="232.28" y2="1858.7" stroke="#000" stroke-width="1.6"/>
<text x="232.28" y="1882.7" font-size="22.6" text-anchor="middle">2</text>
<line x1="292.95" y1="1850.2" x2="292.95" y2="1858.7" stroke="#000" stroke-width="1.6"/>
<text x="292.95" y="1882.7" font-size="22.6" text-anchor="middle">400</text>
<line x1="353.63" y1="1850.2" x2="353.63" y2="1858.7" stroke="#000" stroke-width="1.6"/>
<text x="353.63" y="1882.7" font-size="22.6" text-anchor="middle">600</text>
<line x1="414.31" y1="1850.2" x2="414.31" y2="1858.7" stroke="#000" stroke-width="1.6"/>
<text x="414.31" y="1882.7" font-size="22.6" text-anchor="middle">800</text>
<line x1="474.98" y1="1850.2" x2="474.98" y2="1858.7" stroke="#000" stroke-width="1.6"/>
<text x="474.98" y="1882.7" font-size="22.6" text-anchor="middle">1000</text>
<line x1="535.66" y1="1850.2" x2="535.66" y2="1858.7" stroke="#000" stroke-width="1.6"/>
<text x="535.66" y="1882.7" font-size="22.6" text-anchor="middle">1200</text>
<line x1="596.34" y1="1850.2" x2="596.34" y2="1858.7" stroke="#000" stroke-width="1.6"/>
<text x="596.34" y="1882.7" font-size="22.6" text-anchor="middle">1400</text>
<line x1="657.02" y1="1850.2" x2="657.02" y2="1858.7" stroke="#000" stroke-width="1.6"/>
<text x="657.02" y="1882.7" font-size="22.6" text-anchor="middle">1700</text>
<line x1="717.69" y1="1850.2" x2="717.69" y2="1858.7" stroke="#000" stroke-width="1.6"/>
<text x="717.69" y="1882.7" font-size="22.6" text-anchor="middle">2000</text>
<line x1="778.37" y1="1850.2" x2="778.37" y2="1858.7" stroke="#000" stroke-width="1.6"/>
<text x="778.37" y="1882.7" font-size="22.6" text-anchor="middle">2500</text>
<line x1="839.05" y1="1850.2" x2="839.05" y2="1858.7" stroke="#000" stroke-width="1.6"/>
<text x="839.05" y="1882.7" font-size="22.6" text-anchor="middle">3000</text>
<line x1="899.72" y1="1850.2" x2="899.72" y2="1858.7" stroke="#000" stroke-width="1.6"/>
<text x="899.72" y="1882.7" font-size="22.6" text-anchor="middle">3500</text>
</g>
<g>
<rect x="1175.80" y="1817" width="61.10" height="33.3" fill="#662506"/>
<rect x="1236.40" y="1817" width="61.10" height="33.3" fill="#a63a06"/>
<rect x="1297.00" y="1817" width="61.10" height="33.3" fill="#e5690f"/>
<rect x="1357.60" y="1817" width="61.10" height="33.3" fill="#fe9929"/>
<rect x="1418.20" y="1817" width="61.10" height="33.3" fill="#fecc60"/>
<rect x="1478.80" y="1817" width="61.10" height="33.3" fill="#fff7bc"/>
<rect x="1539.40" y="1817" width="61.10" height="33.3" fill="#f7f7f7"/>
<rect x="1600.00" y="1817" width="61.10" height="33.3" fill="#e0f3db"/>
<rect x="1660.60" y="1817" width="61.10" height="33.3" fill="#b4e2bb"/>
<rect x="1721.20" y="1817" width="61.10" height="33.3" fill="#7bccc4"/>
<rect x="1781.80" y="1817" width="61.10" height="33.3" fill="#43a2ca"/>
<rect x="1842.40" y="1817" width="61.10" height="33.3" fill="#1c74b4"/>
<rect x="1903.00" y="1817" width="61.10" height="33.3" fill="#084081"/>
<rect x="1175.8" y="1817" width="787.8" height="33.3" fill="none" stroke="#000" stroke-width="1.8"/>
<line x1="1236.40" y1="1850.3" x2="1236.40" y2="1858.8" stroke="#000" stroke-width="1.6"/>
<text x="1236.40" y="1882.9" font-size="22.6" text-anchor="middle">-40</text>
<line x1="1297.00" y1="1850.3" x2="1297.00" y2="1858.8" stroke="#000" stroke-width="1.6"/>
<text x="1297.00" y="1882.9" font-size="22.6" text-anchor="middle">-33</text>
<line x1="1357.60" y1="1850.3" x2="1357.60" y2="1858.8" stroke="#000" stroke-width="1.6"/>
<text x="1357.60" y="1882.9" font-size="22.6" text-anchor="middle">-26</text>
<line x1="1418.20" y1="1850.3" x2="1418.20" y2="1858.8" stroke="#000" stroke-width="1.6"/>
<text x="1418.20" y="1882.9" font-size="22.6" text-anchor="middle">-19</text>
<line x1="1478.80" y1="1850.3" x2="1478.80" y2="1858.8" stroke="#000" stroke-width="1.6"/>
<text x="1478.80" y="1882.9" font-size="22.6" text-anchor="middle">-12</text>
<line x1="1539.40" y1="1850.3" x2="1539.40" y2="1858.8" stroke="#000" stroke-width="1.6"/>
<text x="1539.40" y="1882.9" font-size="22.6" text-anchor="middle">-5</text>
<line x1="1600.00" y1="1850.3" x2="1600.00" y2="1858.8" stroke="#000" stroke-width="1.6"/>
<text x="1600.00" y="1882.9" font-size="22.6" text-anchor="middle">+5</text>
<line x1="1660.60" y1="1850.3" x2="1660.60" y2="1858.8" stroke="#000" stroke-width="1.6"/>
<text x="1660.60" y="1882.9" font-size="22.6" text-anchor="middle">+20</text>
<line x1="1721.20" y1="1850.3" x2="1721.20" y2="1858.8" stroke="#000" stroke-width="1.6"/>
<text x="1721.20" y="1882.9" font-size="22.6" text-anchor="middle">+35</text>
<line x1="1781.80" y1="1850.3" x2="1781.80" y2="1858.8" stroke="#000" stroke-width="1.6"/>
<text x="1781.80" y="1882.9" font-size="22.6" text-anchor="middle">+50</text>
<line x1="1842.40" y1="1850.3" x2="1842.40" y2="1858.8" stroke="#000" stroke-width="1.6"/>
<text x="1842.40" y="1882.9" font-size="22.6" text-anchor="middle">+65</text>
<line x1="1903.00" y1="1850.3" x2="1903.00" y2="1858.8" stroke="#000" stroke-width="1.6"/>
<text x="1903.00" y="1882.9" font-size="22.6" text-anchor="middle">+80</text>
</g>
<g>
<rect x="293.00" y="2779.5" width="61.13" height="33.7" fill="#ececf5"/>
<rect x="353.63" y="2779.5" width="61.13" height="33.7" fill="#fffff7"/>
<rect x="414.27" y="2779.5" width="61.13" height="33.7" fill="#ffffb8"/>
<rect x="474.90" y="2779.5" width="61.13" height="33.7" fill="#fee378"/>
<rect x="535.53" y="2779.5" width="61.13" height="33.7" fill="#fecb5c"/>
<rect x="596.17" y="2779.5" width="61.13" height="33.7" fill="#fdae45"/>
<rect x="656.80" y="2779.5" width="61.13" height="33.7" fill="#fd8d3c"/>
<rect x="717.43" y="2779.5" width="61.13" height="33.7" fill="#fc4e2a"/>
<rect x="778.07" y="2779.5" width="61.13" height="33.7" fill="#e31a1c"/>
<rect x="293" y="2779.5" width="545.7" height="33.7" fill="none" stroke="#000" stroke-width="1.8"/>
<line x1="293.00" y1="2813.2" x2="293.00" y2="2821.7" stroke="#000" stroke-width="1.6"/>
<text x="293.00" y="2846" font-size="22.6" text-anchor="middle">0</text>
<line x1="353.63" y1="2813.2" x2="353.63" y2="2821.7" stroke="#000" stroke-width="1.6"/>
<text x="353.63" y="2846" font-size="22.6" text-anchor="middle">120</text>
<line x1="414.27" y1="2813.2" x2="414.27" y2="2821.7" stroke="#000" stroke-width="1.6"/>
<text x="414.27" y="2846" font-size="22.6" text-anchor="middle">750</text>
<line x1="474.90" y1="2813.2" x2="474.90" y2="2821.7" stroke="#000" stroke-width="1.6"/>
<text x="474.90" y="2846" font-size="22.6" text-anchor="middle">1000</text>
<line x1="535.53" y1="2813.2" x2="535.53" y2="2821.7" stroke="#000" stroke-width="1.6"/>
<text x="535.53" y="2846" font-size="22.6" text-anchor="middle">1250</text>
<line x1="596.17" y1="2813.2" x2="596.17" y2="2821.7" stroke="#000" stroke-width="1.6"/>
<text x="596.17" y="2846" font-size="22.6" text-anchor="middle">1500</text>
<line x1="656.80" y1="2813.2" x2="656.80" y2="2821.7" stroke="#000" stroke-width="1.6"/>
<text x="656.80" y="2846" font-size="22.6" text-anchor="middle">1750</text>
<line x1="717.43" y1="2813.2" x2="717.43" y2="2821.7" stroke="#000" stroke-width="1.6"/>
<text x="717.43" y="2846" font-size="22.6" text-anchor="middle">2000</text>
<line x1="778.07" y1="2813.2" x2="778.07" y2="2821.7" stroke="#000" stroke-width="1.6"/>
<text x="778.07" y="2846" font-size="22.6" text-anchor="middle">2250</text>
</g>
<g>
<rect x="1175.80" y="2779.8" width="61.10" height="33.4" fill="#373d6b"/>
<rect x="1236.40" y="2779.8" width="61.10" height="33.4" fill="#4d5a96"/>
<rect x="1297.00" y="2779.8" width="61.10" height="33.4" fill="#7480b6"/>
<rect x="1357.60" y="2779.8" width="61.10" height="33.4" fill="#a8aed1"/>
<rect x="1418.20" y="2779.8" width="61.10" height="33.4" fill="#c9cee3"/>
<rect x="1478.80" y="2779.8" width="61.10" height="33.4" fill="#e9eaf4"/>
<rect x="1539.40" y="2779.8" width="61.10" height="33.4" fill="#ffffff"/>
<rect x="1600.00" y="2779.8" width="61.10" height="33.4" fill="#ffffad"/>
<rect x="1660.60" y="2779.8" width="61.10" height="33.4" fill="#fed976"/>
<rect x="1721.20" y="2779.8" width="61.10" height="33.4" fill="#feb24c"/>
<rect x="1781.80" y="2779.8" width="61.10" height="33.4" fill="#fd8d3c"/>
<rect x="1842.40" y="2779.8" width="61.10" height="33.4" fill="#fc4e2a"/>
<rect x="1903.00" y="2779.8" width="61.10" height="33.4" fill="#e31a1c"/>
<rect x="1175.8" y="2779.8" width="787.8" height="33.4" fill="none" stroke="#000" stroke-width="1.8"/>
<line x1="1236.40" y1="2813.2000000000003" x2="1236.40" y2="2821.7000000000003" stroke="#000" stroke-width="1.6"/>
<text x="1236.40" y="2846" font-size="22.6" text-anchor="middle">-23</text>
<line x1="1297.00" y1="2813.2000000000003" x2="1297.00" y2="2821.7000000000003" stroke="#000" stroke-width="1.6"/>
<text x="1297.00" y="2846" font-size="22.6" text-anchor="middle">-19</text>
<line x1="1357.60" y1="2813.2000000000003" x2="1357.60" y2="2821.7000000000003" stroke="#000" stroke-width="1.6"/>
<text x="1357.60" y="2846" font-size="22.6" text-anchor="middle">-15</text>
<line x1="1418.20" y1="2813.2000000000003" x2="1418.20" y2="2821.7000000000003" stroke="#000" stroke-width="1.6"/>
<text x="1418.20" y="2846" font-size="22.6" text-anchor="middle">-11</text>
<line x1="1478.80" y1="2813.2000000000003" x2="1478.80" y2="2821.7000000000003" stroke="#000" stroke-width="1.6"/>
<text x="1478.80" y="2846" font-size="22.6" text-anchor="middle">-7</text>
<line x1="1539.40" y1="2813.2000000000003" x2="1539.40" y2="2821.7000000000003" stroke="#000" stroke-width="1.6"/>
<text x="1539.40" y="2846" font-size="22.6" text-anchor="middle">-3</text>
<line x1="1600.00" y1="2813.2000000000003" x2="1600.00" y2="2821.7000000000003" stroke="#000" stroke-width="1.6"/>
<text x="1600.00" y="2846" font-size="22.6" text-anchor="middle">+3</text>
<line x1="1660.60" y1="2813.2000000000003" x2="1660.60" y2="2821.7000000000003" stroke="#000" stroke-width="1.6"/>
<text x="1660.60" y="2846" font-size="22.6" text-anchor="middle">+9</text>
<line x1="1721.20" y1="2813.2000000000003" x2="1721.20" y2="2821.7000000000003" stroke="#000" stroke-width="1.6"/>
<text x="1721.20" y="2846" font-size="22.6" text-anchor="middle">+15</text>
<line x1="1781.80" y1="2813.2000000000003" x2="1781.80" y2="2821.7000000000003" stroke="#000" stroke-width="1.6"/>
<text x="1781.80" y="2846" font-size="22.6" text-anchor="middle">+21</text>
<line x1="1842.40" y1="2813.2000000000003" x2="1842.40" y2="2821.7000000000003" stroke="#000" stroke-width="1.6"/>
<text x="1842.40" y="2846" font-size="22.6" text-anchor="middle">+27</text>
<line x1="1903.00" y1="2813.2000000000003" x2="1903.00" y2="2821.7000000000003" stroke="#000" stroke-width="1.6"/>
<text x="1903.00" y="2846" font-size="22.6" text-anchor="middle">+33</text>
</g>
<text x="104.5" y="975.5" font-size="37" textLength="918.5" lengthAdjust="spacingAndGlyphs" style="white-space:pre">Jahresmittelwert der Lufttemperatur [°C] im Jahr 2022</text>
<text x="1293" y="976.5" font-size="37" textLength="553.0" lengthAdjust="spacingAndGlyphs" style="white-space:pre">Abweichung von 1961–1990 [°C]</text>
<text x="126.4" y="1949" font-size="37" textLength="874.2" lengthAdjust="spacingAndGlyphs" style="white-space:pre">Jahressumme des Niederschlags [mm] im Jahr 2022</text>
<text x="1296.8" y="1949.2" font-size="37" textLength="544.8" lengthAdjust="spacingAndGlyphs" style="white-space:pre">Abweichung von 1961–1990 [%]</text>
<text x="95.6" y="2900" font-size="37" textLength="936.2" lengthAdjust="spacingAndGlyphs" style="white-space:pre">Jahressumme der  Sonnenscheindauer [h] im Jahr 2022</text>
<text x="1296.8" y="2901" font-size="37" textLength="544.8" lengthAdjust="spacingAndGlyphs" style="white-space:pre">Abweichung von 1961–1990 [%]</text>
</svg>
</body></html>
